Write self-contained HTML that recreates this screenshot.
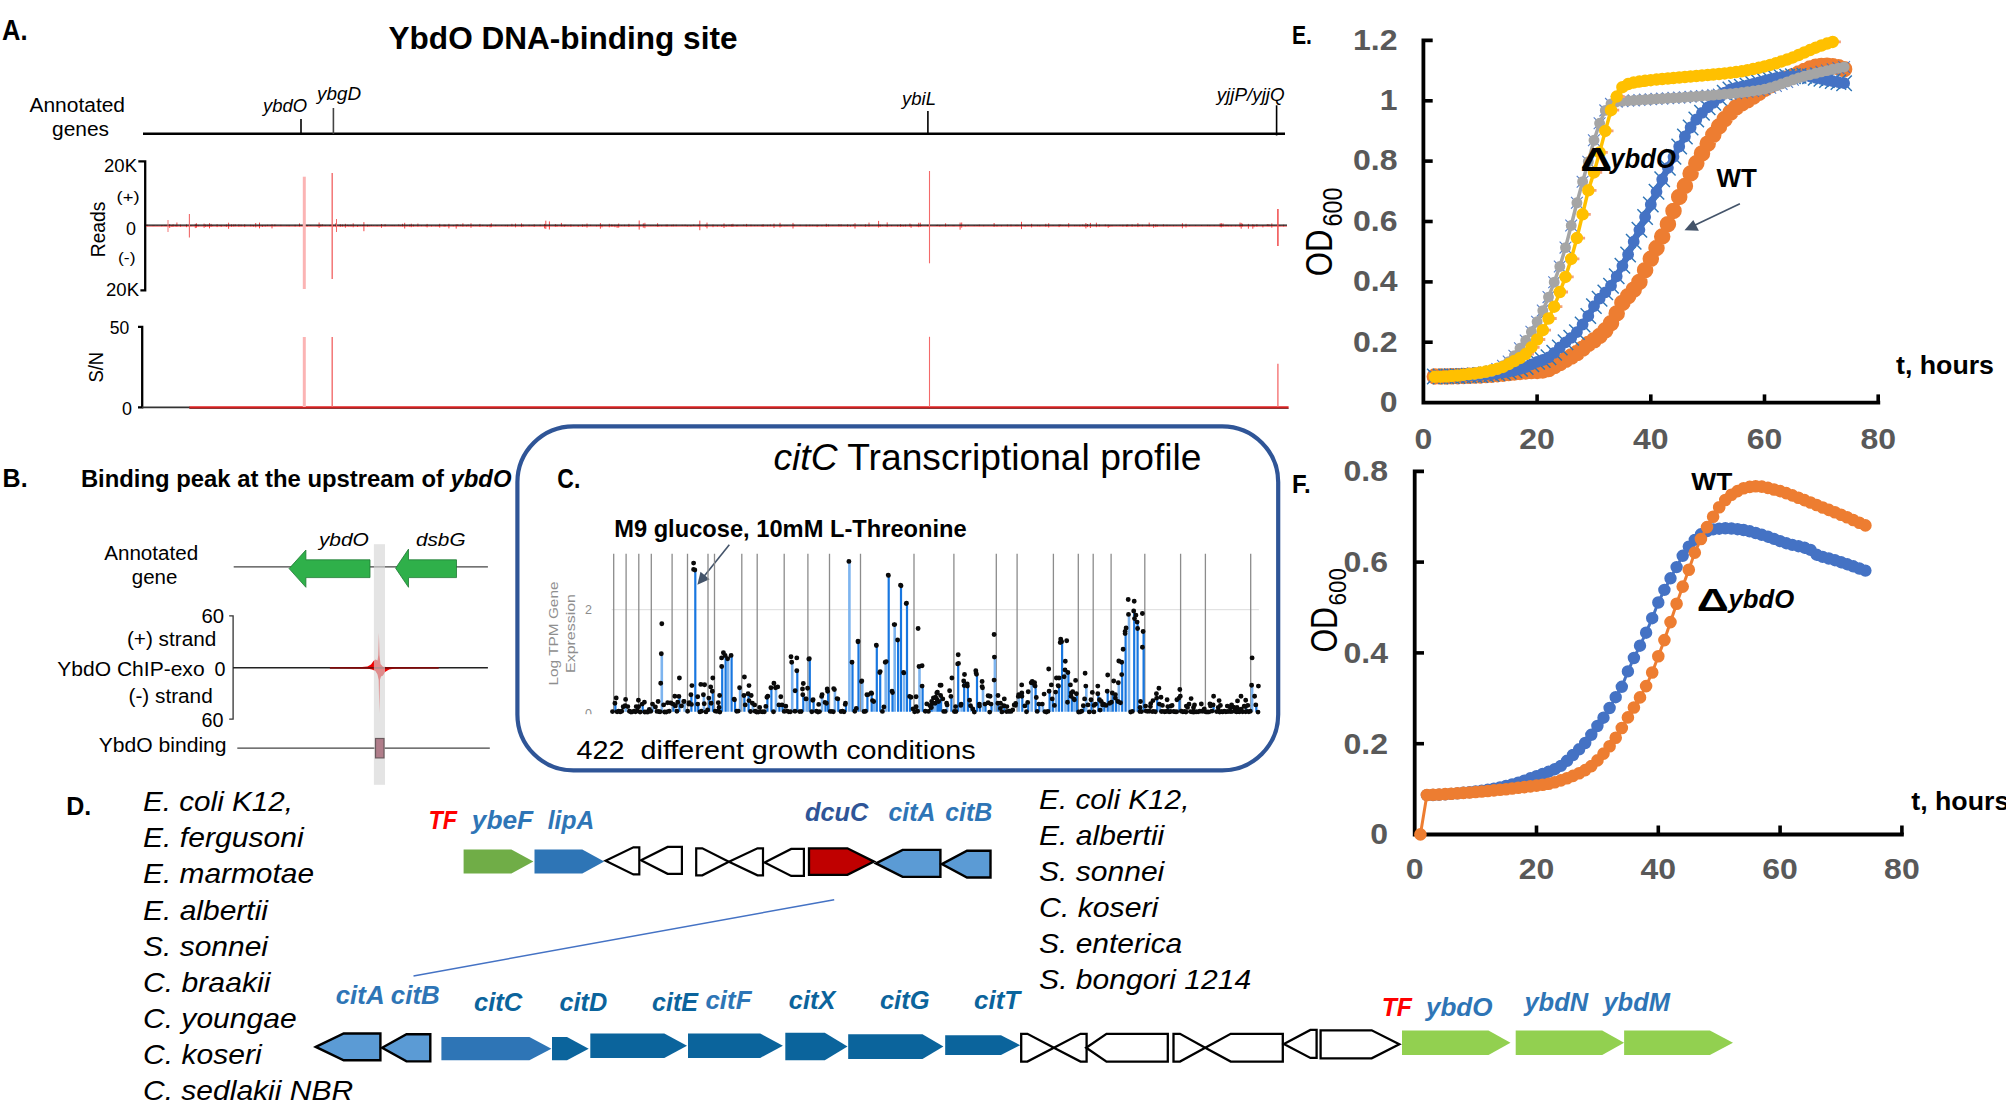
<!DOCTYPE html>
<html lang="en">
<head>
<meta charset="utf-8">
<title>YbdO DNA-binding site</title>
<style>
html,body{margin:0;padding:0;background:#fff;}
body{width:2006px;height:1112px;overflow:hidden;}
svg{display:block;font-family:"Liberation Sans",sans-serif;}
</style>
</head>
<body>
<svg width="2006" height="1112" viewBox="0 0 2006 1112">
<rect width="2006" height="1112" fill="#fff"/>
<g id="panelA">
<text x="2.0" y="40.0" font-size="29" font-weight="bold" textLength="25.5" lengthAdjust="spacingAndGlyphs">A.</text>
<text x="388.5" y="49.3" font-size="30.5" font-weight="bold" textLength="349.0" lengthAdjust="spacingAndGlyphs">YbdO DNA-binding site</text>
<text x="29.5" y="112.0" font-size="19.5" textLength="95.5" lengthAdjust="spacingAndGlyphs">Annotated</text>
<text x="52.0" y="136.0" font-size="19.5" textLength="57.0" lengthAdjust="spacingAndGlyphs">genes</text>
<line x1="143.0" y1="133.7" x2="1285.0" y2="133.7" stroke="#000" stroke-width="2.6"/>
<line x1="301.0" y1="119.0" x2="301.0" y2="134.0" stroke="#000" stroke-width="1.6"/>
<line x1="333.4" y1="108.0" x2="333.4" y2="134.0" stroke="#444" stroke-width="1.6"/>
<line x1="927.9" y1="111.0" x2="927.9" y2="134.0" stroke="#000" stroke-width="1.6"/>
<line x1="1276.6" y1="105.3" x2="1276.6" y2="135.5" stroke="#000" stroke-width="1.6"/>
<text x="263.0" y="111.7" font-size="18" font-style="italic" textLength="44.0" lengthAdjust="spacingAndGlyphs">ybdO</text>
<text x="317.0" y="99.7" font-size="18" font-style="italic" textLength="44.0" lengthAdjust="spacingAndGlyphs">ybgD</text>
<text x="902.0" y="104.7" font-size="18" font-style="italic" textLength="34.0" lengthAdjust="spacingAndGlyphs">ybiL</text>
<text x="1216.7" y="100.5" font-size="18" font-style="italic" textLength="68.0" lengthAdjust="spacingAndGlyphs">yjjP/yjjQ</text>
<text x="104.0" y="172.3" font-size="18.5" textLength="33.0" lengthAdjust="spacingAndGlyphs">20K</text>
<text x="116.6" y="202.0" font-size="15.5" textLength="23.0" lengthAdjust="spacingAndGlyphs">(+)</text>
<text x="126.0" y="235.0" font-size="18.5" textLength="10.0" lengthAdjust="spacingAndGlyphs">0</text>
<text x="118.0" y="262.5" font-size="15.5" textLength="17.5" lengthAdjust="spacingAndGlyphs">(-)</text>
<text x="106.0" y="296.0" font-size="18.5" textLength="33.0" lengthAdjust="spacingAndGlyphs">20K</text>
<text transform="translate(104.9 257.2) rotate(-90)" font-size="20.5" textLength="55.5" lengthAdjust="spacingAndGlyphs">Reads</text>
<path d="M138.3 161.3H145.2V290.4H140.4" fill="none" stroke="#000" stroke-width="2.3"/>
<path d="M147.0 224.6V226.2M153.0 225.3V226.1M154.2 225.3V225.9M157.1 225.4V225.9M161.5 225.3V226.2M162.7 225.2V226.0M164.9 224.9V226.0M166.1 225.0V226.1M169.7 224.1V227.9M171.9 225.0V226.8M173.1 224.3V226.7M175.3 225.1V226.3M176.9 222.5V226.7M180.5 224.6V226.8M186.5 224.4V227.2M190.9 225.0V226.2M195.3 223.8V228.1M196.5 223.3V227.7M198.1 224.9V226.4M204.1 223.6V227.8M205.7 224.4V227.0M207.9 224.6V226.6M209.5 223.2V228.4M211.1 223.9V226.9M212.7 225.1V226.2M217.1 224.2V227.1M220.0 225.0V226.0M221.2 224.9V226.9M224.8 225.0V225.9M226.4 224.5V226.9M228.6 222.7V228.8M231.5 224.4V226.8M233.7 224.5V226.5M235.3 224.4V226.2M238.9 224.3V226.7M241.1 224.6V226.4M244.7 224.3V227.1M250.7 224.7V226.4M252.3 225.1V225.9M253.5 225.0V226.6M255.7 223.0V227.3M257.9 225.2V226.0M259.5 222.6V228.4M262.4 225.0V227.0M265.3 225.2V226.5M267.5 224.8V226.1M270.4 225.3V225.9M272.0 224.3V228.4M274.9 224.4V226.2M280.9 224.8V226.1M286.9 225.2V226.1M289.1 225.1V226.3M295.1 224.8V226.5M299.5 223.4V226.5M301.1 225.1V226.0M307.1 225.0V226.4M310.7 225.2V226.0M316.7 225.3V225.9M317.9 225.0V226.3M319.1 222.5V227.9M320.7 224.7V226.5M322.3 224.3V226.2M325.2 225.0V226.1M329.6 225.2V226.1M330.8 224.8V226.2M333.0 225.1V226.6M335.9 223.1V227.1M340.3 224.2V227.0M342.5 224.6V226.6M345.4 223.8V227.7M347.6 224.8V226.0M348.8 225.3V226.3M351.0 224.7V226.4M353.2 223.3V227.3M357.6 225.0V227.0M360.5 225.4V225.9M362.7 225.2V226.0M363.9 222.1V231.2M367.5 224.8V226.6M369.1 225.0V226.3M371.3 224.9V226.0M373.5 225.4V225.8M377.1 225.1V226.2M381.5 224.0V227.8M385.1 224.2V226.4M391.1 225.1V225.9M392.7 225.1V225.9M394.3 225.1V226.1M398.7 224.5V226.1M400.3 225.3V226.2M402.5 223.8V226.5M404.7 222.8V228.5M406.3 225.3V226.1M407.5 225.3V225.9M409.7 224.6V226.5M411.3 223.7V227.2M413.5 224.7V226.5M417.9 223.5V226.6M421.5 225.2V226.2M425.9 225.3V226.3M427.1 223.9V227.4M431.5 225.3V226.5M435.9 225.3V226.3M438.1 225.2V226.3M439.7 223.8V227.6M444.1 224.6V226.6M445.3 224.8V226.4M448.9 223.8V228.4M453.3 225.1V226.3M456.2 224.4V228.6M457.8 224.3V226.0M460.7 224.8V226.1M462.9 223.3V226.7M466.5 225.1V226.4M468.1 224.5V226.2M471.0 223.3V227.8M473.2 225.0V226.0M475.4 225.3V225.9M477.0 225.3V225.9M479.9 223.9V226.9M482.8 224.9V226.1M487.2 225.0V227.0M490.1 224.6V227.3M491.3 223.3V227.2M495.7 224.9V226.1M501.7 225.1V225.9M505.3 225.0V226.1M507.5 224.9V226.5M511.9 223.8V226.4M515.5 223.6V227.3M521.5 223.4V227.1M523.1 224.7V226.6M529.1 224.8V226.2M532.0 225.1V225.9M534.2 224.4V226.9M540.2 224.7V226.2M544.6 223.9V228.4M545.8 220.7V228.9M549.4 221.4V229.5M555.4 224.1V226.8M557.0 224.8V226.6M561.4 222.9V226.6M563.0 225.3V226.4M564.6 224.8V226.8M565.8 224.8V225.9M568.0 225.3V226.3M570.9 224.5V226.9M573.8 225.3V226.2M578.2 225.0V226.9M582.6 224.5V227.0M584.8 224.8V226.4M587.0 223.5V227.6M590.6 224.8V226.0M596.6 225.1V226.4M598.8 225.1V225.9M600.4 223.1V228.7M602.0 224.8V227.3M604.9 225.3V226.0M609.3 223.8V227.3M611.5 224.6V226.4M612.7 224.8V226.4M614.9 224.6V227.2M617.1 224.7V227.9M618.7 223.5V227.7M621.6 225.1V226.0M624.5 224.8V226.2M628.9 223.8V227.0M631.8 225.1V225.8M633.4 225.2V226.0M637.0 225.1V225.9M639.2 220.5V229.6M640.4 225.4V226.1M643.3 223.3V227.7M644.9 222.8V228.2M650.9 225.1V226.1M653.1 225.1V225.9M656.0 225.1V226.1M657.6 223.2V226.8M658.8 225.0V226.4M661.7 225.0V226.3M666.1 224.7V226.4M667.3 224.6V226.4M671.7 224.9V226.3M673.3 224.6V226.3M676.2 224.7V226.2M682.2 224.8V225.9M685.1 224.7V225.9M687.3 225.2V226.6M690.9 225.0V226.5M693.8 224.5V226.0M698.2 224.6V226.3M699.8 220.6V230.2M705.8 224.6V226.9M707.0 222.6V228.4M713.0 224.6V227.2M717.4 225.1V226.6M721.8 225.1V226.8M724.0 223.4V228.0M726.2 225.0V226.6M729.1 224.7V226.2M731.3 224.3V226.7M732.9 223.8V226.9M736.5 225.1V226.3M737.7 224.9V226.3M743.7 224.7V225.9M746.6 223.9V226.6M751.0 224.7V226.3M754.6 225.2V226.1M757.5 225.2V226.1M761.9 224.9V226.4M763.1 224.3V226.8M767.5 224.9V226.3M770.4 224.5V226.2M774.0 223.6V227.9M780.0 222.8V227.5M781.2 225.0V226.5M784.8 225.4V226.2M787.0 225.1V226.1M793.0 222.9V228.5M794.2 224.7V226.1M800.2 224.8V226.1M806.2 224.7V226.5M809.8 224.7V226.3M812.7 224.9V226.1M814.9 225.3V226.0M817.1 224.8V227.1M818.3 225.3V226.1M821.9 225.1V226.3M826.3 223.8V226.9M828.5 224.5V226.4M832.9 225.2V225.9M838.9 224.1V226.4M841.1 224.3V226.4M844.0 225.3V225.9M847.6 224.4V226.8M850.5 225.0V226.6M853.4 224.6V226.1M855.0 223.2V228.5M861.0 224.9V226.0M865.4 224.3V226.9M869.0 222.6V226.7M872.6 225.3V225.8M878.6 220.9V227.5M880.2 224.6V226.8M882.4 225.1V226.0M886.0 225.2V226.2M887.2 222.4V227.1M891.6 225.0V226.2M897.6 224.9V226.6M900.5 224.3V226.9M901.7 225.0V226.1M903.3 225.1V226.5M905.5 224.7V226.5M909.9 223.5V226.6M911.1 224.5V227.8M917.1 224.9V226.3M918.7 222.8V227.2M920.3 222.7V226.9M921.5 225.2V225.9M927.5 224.9V226.2M930.4 225.2V225.9M936.4 225.0V226.0M937.6 224.8V226.0M939.8 225.0V226.5M942.0 225.3V225.9M945.6 223.3V226.6M948.5 225.1V225.9M952.9 225.3V226.1M954.1 225.2V226.2M960.1 222.6V229.7M961.7 222.5V227.7M965.3 225.1V226.4M968.2 224.9V226.0M974.2 225.2V226.1M977.1 225.0V226.0M979.3 224.6V226.2M983.7 225.2V226.3M988.1 225.3V225.8M994.1 223.0V226.9M997.0 225.1V226.5M1001.4 225.1V226.4M1007.4 224.6V226.4M1011.0 224.6V226.4M1015.4 225.0V225.9M1017.0 224.8V226.2M1018.6 225.3V226.0M1021.5 221.8V229.1M1025.1 225.0V226.6M1028.0 225.0V226.0M1031.6 223.8V227.4M1037.6 224.9V226.2M1039.8 225.1V226.4M1045.8 223.8V226.7M1048.7 223.2V227.5M1053.1 225.1V225.9M1059.1 224.4V227.1M1060.7 224.6V226.0M1062.9 225.1V226.0M1065.8 225.1V226.0M1068.7 223.1V227.4M1074.7 225.0V226.2M1076.9 225.1V226.1M1079.8 224.9V226.5M1082.7 224.6V226.2M1084.3 225.3V226.5M1085.9 223.0V228.4M1087.5 224.0V227.1M1090.4 222.9V228.0M1096.4 222.7V227.2M1099.3 224.5V226.5M1105.3 224.5V226.3M1108.2 224.7V227.8M1109.8 225.1V226.8M1112.0 225.1V226.3M1116.4 225.4V225.9M1120.0 224.9V225.9M1122.9 224.8V226.6M1126.5 224.8V226.6M1127.7 224.5V226.5M1132.1 224.4V226.8M1135.0 225.0V226.3M1137.9 223.1V227.1M1139.5 225.3V226.1M1142.4 224.8V226.4M1146.8 225.2V226.2M1148.0 225.0V225.9M1149.2 222.6V226.6M1153.6 224.3V227.8M1155.8 224.4V227.1M1157.4 224.8V226.6M1163.4 224.4V226.4M1167.0 224.8V226.2M1169.9 225.2V226.0M1173.5 225.3V226.2M1176.4 225.4V225.8M1182.4 223.2V228.3M1186.0 223.8V227.5M1189.6 225.0V226.1M1195.6 225.2V225.9M1201.6 225.0V226.0M1207.6 224.9V226.1M1209.8 225.1V226.2M1214.2 225.2V226.1M1220.2 223.3V227.1M1221.4 223.2V227.4M1223.0 223.4V226.7M1225.9 224.9V226.2M1227.1 224.9V226.0M1228.3 225.1V226.3M1231.2 225.0V226.4M1235.6 225.2V226.3M1240.0 222.6V227.1M1241.2 222.9V228.7M1242.4 223.7V226.6M1248.4 223.9V228.7M1252.8 224.3V228.7M1254.0 224.9V227.2M1256.9 224.1V226.8M1262.9 225.0V227.4M1267.3 224.1V226.2M1268.9 224.2V226.3M1271.8 223.4V227.7M1274.0 225.3V225.8M1280.0 225.4V226.2M1283.6 224.7V226.5" stroke="#f21c1c" stroke-width="0.9" fill="none" opacity="0.9"/>
<line x1="146.0" y1="226.1" x2="1287.0" y2="226.1" stroke="#ee2a2a" stroke-width="1.6" opacity="0.5"/>
<line x1="146.0" y1="225.1" x2="1287.0" y2="225.1" stroke="#1a1a1a" stroke-width="1.3"/>
<line x1="189.4" y1="214.0" x2="189.4" y2="237.5" stroke="#f06a6a" stroke-width="1.1"/>
<line x1="168.0" y1="220.0" x2="168.0" y2="232.0" stroke="#f06a6a" stroke-width="0.9"/>
<line x1="304.3" y1="176.7" x2="304.3" y2="289.0" stroke="#fbb4b4" stroke-width="3"/>
<line x1="332.2" y1="173.0" x2="332.2" y2="279.0" stroke="#f26d6d" stroke-width="1.4"/>
<line x1="336.5" y1="219.0" x2="336.5" y2="232.0" stroke="#f06a6a" stroke-width="1"/>
<line x1="929.5" y1="171.0" x2="929.5" y2="263.3" stroke="#f46a6a" stroke-width="1.1"/>
<line x1="1277.9" y1="209.0" x2="1277.9" y2="246.0" stroke="#f04a4a" stroke-width="1.5"/>
<text x="109.8" y="334.0" font-size="18.5" textLength="19.5" lengthAdjust="spacingAndGlyphs">50</text>
<text x="122.0" y="415.0" font-size="18.5" textLength="10.0" lengthAdjust="spacingAndGlyphs">0</text>
<text transform="translate(103.4 382.6) rotate(-90)" font-size="21" textLength="30.8" lengthAdjust="spacingAndGlyphs">S/N</text>
<path d="M138 326.8H142.2V407.4H138" fill="none" stroke="#000" stroke-width="2.3"/>
<line x1="142.0" y1="407.4" x2="190.0" y2="407.4" stroke="#333" stroke-width="1.6"/>
<line x1="189.4" y1="407.4" x2="1288.6" y2="407.4" stroke="#d22" stroke-width="2.2"/>
<line x1="189.4" y1="408.4" x2="1288.6" y2="408.4" stroke="#611" stroke-width="0.8"/>
<line x1="304.3" y1="337.0" x2="304.3" y2="407.0" stroke="#fbb4b4" stroke-width="3"/>
<line x1="332.2" y1="337.0" x2="332.2" y2="407.0" stroke="#f26d6d" stroke-width="1.4"/>
<line x1="929.5" y1="336.8" x2="929.5" y2="407.0" stroke="#f46a6a" stroke-width="1.1"/>
<line x1="1277.9" y1="363.7" x2="1277.9" y2="407.0" stroke="#f46a6a" stroke-width="1.3"/>
</g>
<g id="panelB">
<text x="2.6" y="486.9" font-size="25" font-weight="bold" textLength="25.0" lengthAdjust="spacingAndGlyphs">B.</text>
<text x="80.9" y="486.9" font-size="23.5" font-weight="bold" textLength="430.6" lengthAdjust="spacingAndGlyphs">Binding peak at the upstream of <tspan font-style="italic">ybdO</tspan></text>
<text x="104.2" y="559.8" font-size="20" textLength="94.0" lengthAdjust="spacingAndGlyphs">Annotated</text>
<text x="131.8" y="584.0" font-size="20" textLength="45.6" lengthAdjust="spacingAndGlyphs">gene</text>
<line x1="233.7" y1="566.9" x2="487.9" y2="566.9" stroke="#444" stroke-width="1.3"/>
<polygon points="289.1,568.6 305.9,550.0 305.9,559.8 370.0,559.8 370.0,577.6 305.9,577.6 305.9,587.3" fill="#2fb04a" stroke="#1f7a33" stroke-width="0.8" stroke-linejoin="miter"/>
<polygon points="395.6,568.2 408.5,549.1 408.5,559.8 456.5,559.8 456.5,577.6 408.5,577.6 408.5,587.3" fill="#2fb04a" stroke="#1f7a33" stroke-width="0.8" stroke-linejoin="miter"/>
<text x="318.9" y="546.2" font-size="19" font-style="italic" textLength="50.0" lengthAdjust="spacingAndGlyphs">ybdO</text>
<text x="416.0" y="546.2" font-size="19" font-style="italic" textLength="49.5" lengthAdjust="spacingAndGlyphs">dsbG</text>
<text x="201.4" y="622.9" font-size="19.5" textLength="22.6" lengthAdjust="spacingAndGlyphs">60</text>
<text x="126.9" y="645.6" font-size="19.5" textLength="89.4" lengthAdjust="spacingAndGlyphs">(+) strand</text>
<text x="57.3" y="676.3" font-size="19.5" textLength="147.3" lengthAdjust="spacingAndGlyphs">YbdO ChIP-exo</text>
<text x="214.6" y="676.3" font-size="19.5" textLength="11.0" lengthAdjust="spacingAndGlyphs">0</text>
<text x="128.5" y="702.9" font-size="19.5" textLength="84.2" lengthAdjust="spacingAndGlyphs">(-) strand</text>
<text x="201.4" y="726.5" font-size="19.5" textLength="22.0" lengthAdjust="spacingAndGlyphs">60</text>
<path d="M229.2 615.8H233.1V719.1H229.2" fill="none" stroke="#333" stroke-width="1.3"/>
<line x1="233.0" y1="667.8" x2="487.9" y2="667.8" stroke="#222" stroke-width="1.6"/>
<path d="M329.9 667.8L362 667L367.5 666.5L371 664.5L373.5 661L375.5 659.6L377.5 660.5L378.3 655L378.9 632.4L379.5 655L380.5 664L383 666.8L390 667.2L438.7 667.8L395 668.6L389.2 669.5L385 672L383 675.5L381 676.4L379.9 680L379.3 713.5L378.7 680L377.5 674.5L375.4 671L372 669.5L367 668.6Z" fill="#f00000"/>
<line x1="329.9" y1="667.8" x2="438.7" y2="667.8" stroke="#7a0a0a" stroke-width="1.7"/>
<text x="98.7" y="752.4" font-size="19.5" textLength="127.9" lengthAdjust="spacingAndGlyphs">YbdO binding</text>
<line x1="237.3" y1="748.2" x2="489.8" y2="748.2" stroke="#444" stroke-width="1.3"/>
<rect x="373.9" y="544.2" width="11.1" height="240.6" fill="#d6d6d6" opacity="0.655"/>
<rect x="375.5" y="738.5" width="8.5" height="19.4" fill="#b07d8a" stroke="#6b5a5e" stroke-width="1.2"/>
</g>
<g id="panelC">
<rect x="517.4" y="426.3" width="760.8" height="344.1" rx="56" ry="56" fill="#fff" stroke="#2f5597" stroke-width="4.2"/>
<text x="773.5" y="469.8" font-size="37" textLength="428.0" lengthAdjust="spacingAndGlyphs"><tspan font-style="italic">citC</tspan> Transcriptional profile</text>
<text x="557.3" y="488.2" font-size="27.5" font-weight="bold" textLength="23.0" lengthAdjust="spacingAndGlyphs">C.</text>
<text x="614.2" y="536.8" font-size="24" font-weight="bold" textLength="352.5" lengthAdjust="spacingAndGlyphs">M9 glucose, 10mM L-Threonine</text>
<text x="576.6" y="759.0" font-size="25.5" textLength="399.0" lengthAdjust="spacingAndGlyphs">422  different growth conditions</text>
<line x1="729.3" y1="544.8" x2="701.5" y2="579.6" stroke="#44546a" stroke-width="1.6"/>
<polygon points="697.4,584.7 700.5,571.8 709.6,579.2" fill="#44546a"/>
<text transform="translate(557.5 633.5) rotate(-90)" font-size="13.5" fill="#8f8f8f" text-anchor="middle" textLength="104.0" lengthAdjust="spacingAndGlyphs">Log TPM Gene</text>
<text transform="translate(575.3 633.5) rotate(-90)" font-size="13.5" fill="#8f8f8f" text-anchor="middle" textLength="79.0" lengthAdjust="spacingAndGlyphs">Expression</text>
<text x="588.5" y="613.8" font-size="12.5" fill="#8c8c8c" text-anchor="middle">2</text>
<text x="588.5" y="717.5" font-size="12.5" fill="#8c8c8c" text-anchor="middle">0</text>
<rect x="580.0" y="714.2" width="17.0" height="6.0" fill="#fff"/>
<line x1="611.7" y1="609.7" x2="1258.9" y2="609.7" stroke="#dcdcdc" stroke-width="1"/>
<path d="M613.7 553.7V711.7M626.1 553.7V711.7M638.8 553.7V711.7M651.3 553.7V711.7M672.1 553.7V711.7M687.5 553.7V711.7M708.0 553.7V711.7M714.5 553.7V711.7M741.8 553.7V711.7M757.2 553.7V711.7M784.2 553.7V711.7M807.9 553.7V711.7M829.5 553.7V711.7M860.5 553.7V711.7M914.0 553.7V711.7M953.9 553.7V711.7M996.3 553.7V711.7M1017.1 553.7V711.7M1053.4 553.7V711.7M1078.3 553.7V711.7M1093.2 553.7V711.7M1111.1 553.7V711.7M1144.8 553.7V711.7M1180.6 553.7V711.7M1205.4 553.7V711.7M1250.7 553.7V711.7" stroke="#8c8c8c" stroke-width="1.3" fill="none"/>
<path d="M661.8 654.5V711.7M625.6 706.6V711.7M653.0 704.9V711.7M684.6 702.3V711.7M703.9 695.5V711.7M719.6 708.3V711.7M728.1 659.6V711.7M740.1 688.6V711.7M752.9 704.0V711.7M776.0 688.6V711.7M792.2 663.0V711.7M806.7 699.7V711.7M822.1 697.2V711.7M834.9 690.4V711.7M849.4 562.2V711.7M862.3 681.8V711.7M874.2 702.3V711.7M885.7 663.0V711.7M894.7 625.4V711.7M904.1 673.3V711.7M919.5 667.3V711.7M935.7 704.0V711.7M933.4 704.0V711.7M947.1 704.0V711.7M961.6 704.9V711.7M971.0 706.6V711.7M983.0 688.6V711.7M994.9 657.9V711.7M1018.8 697.2V711.7M1031.7 683.5V711.7M1042.8 704.9V711.7M1056.1 692.9V711.7M1065.5 670.7V711.7M1074.4 699.7V711.7M1086.3 686.9V711.7M1101.7 702.3V711.7M1110.2 704.0V711.7M1118.8 683.5V711.7M1129.0 615.2V711.7M1140.5 708.3V711.7M1159.8 704.9V711.7M1194.0 708.3V711.7M1230.7 708.3V711.7M1252.1 686.1V711.7" stroke="#7db4ef" stroke-width="2.6" fill="none"/>
<path d="M695.3 570.8V711.7M615.4 704.0V711.7M636.7 707.4V711.7M642.7 704.9V711.7M673.5 704.9V711.7M679.4 697.2V711.7M691.4 695.5V711.7M698.2 704.9V711.7M709.3 698.9V711.7M712.8 692.1V711.7M722.2 667.3V711.7M725.6 656.2V711.7M731.6 656.2V711.7M735.0 700.6V711.7M744.4 696.3V711.7M748.6 694.6V711.7M767.4 698.0V711.7M771.4 688.6V711.7M779.4 705.7V711.7M782.5 705.7V711.7M797.3 671.6V711.7M803.3 695.5V711.7M809.8 659.6V711.7M813.6 700.6V711.7M825.5 703.2V711.7M828.1 692.1V711.7M838.3 699.7V711.7M846.0 704.0V711.7M852.5 663.0V711.7M858.5 642.5V711.7M867.4 695.5V711.7M871.7 693.8V711.7M876.8 645.9V711.7M880.2 673.3V711.7M888.7 575.9V711.7M892.5 692.1V711.7M898.1 640.8V711.7M901.0 586.1V711.7M907.0 604.1V711.7M910.1 697.2V711.7M922.6 686.9V711.7M931.5 708.3V711.7M939.1 702.3V711.7M937.7 700.6V711.7M941.1 696.3V711.7M951.4 697.2V711.7M958.2 664.7V711.7M964.2 681.8V711.7M967.9 686.9V711.7M977.0 675.0V711.7M979.9 704.9V711.7M985.5 704.9V711.7M991.5 704.9V711.7M998.3 704.0V711.7M1004.3 706.6V711.7M1022.3 693.8V711.7M1028.2 703.2V711.7M1035.6 686.9V711.7M1039.3 704.9V711.7M1049.6 692.1V711.7M1052.7 699.7V711.7M1059.0 686.9V711.7M1062.1 642.5V711.7M1068.4 673.3V711.7M1071.8 693.8V711.7M1076.9 694.6V711.7M1083.8 706.6V711.7M1091.5 700.6V711.7M1098.3 694.6V711.7M1104.3 704.9V711.7M1107.7 692.1V711.7M1112.8 693.8V711.7M1115.9 698.9V711.7M1122.2 663.0V711.7M1125.6 632.3V711.7M1134.2 611.8V711.7M1137.6 622.9V711.7M1143.6 632.3V711.7M1157.2 698.9V711.7M1168.3 707.4V711.7M1179.4 698.9V711.7M1213.6 705.7V711.7M1218.7 708.3V711.7M1237.5 708.3V711.7M1246.1 707.4V711.7M1256.3 705.7V711.7" stroke="#1877e0" stroke-width="2.2" fill="none"/>
<path d="M661.3 653.7h0.01M694.8 570.0h0.01M614.9 703.2h0.01M625.1 705.8h0.01M636.2 706.6h0.01M642.2 704.1h0.01M652.5 704.1h0.01M673.0 704.1h0.01M678.9 696.4h0.01M684.1 701.5h0.01M690.9 694.7h0.01M697.7 704.1h0.01M703.4 694.7h0.01M708.8 698.1h0.01M712.3 691.3h0.01M719.1 707.5h0.01M721.7 666.5h0.01M725.1 655.4h0.01M727.6 658.8h0.01M731.1 655.4h0.01M734.5 699.8h0.01M739.6 687.8h0.01M743.9 695.5h0.01M748.1 693.8h0.01M752.4 703.2h0.01M766.9 697.2h0.01M770.9 687.8h0.01M775.5 687.8h0.01M778.9 704.9h0.01M782.0 704.9h0.01M791.7 662.2h0.01M796.8 670.8h0.01M802.8 694.7h0.01M806.2 698.9h0.01M809.3 658.8h0.01M813.1 699.8h0.01M821.6 696.4h0.01M825.0 702.4h0.01M827.6 691.3h0.01M834.4 689.6h0.01M837.8 698.9h0.01M845.5 703.2h0.01M848.9 561.4h0.01M852.0 662.2h0.01M858.0 641.7h0.01M861.8 681.0h0.01M866.9 694.7h0.01M871.2 693.0h0.01M873.7 701.5h0.01M876.3 645.1h0.01M879.7 672.5h0.01M885.2 662.2h0.01M888.2 575.1h0.01M892.0 691.3h0.01M894.2 624.6h0.01M897.6 640.0h0.01M900.5 585.3h0.01M903.6 672.5h0.01M906.5 603.3h0.01M909.6 696.4h0.01M919.0 666.5h0.01M922.1 686.1h0.01M931.0 707.5h0.01M935.2 703.2h0.01M938.6 701.5h0.01M932.9 703.2h0.01M937.2 699.8h0.01M940.6 695.5h0.01M946.6 703.2h0.01M950.9 696.4h0.01M957.7 663.9h0.01M961.1 704.1h0.01M963.7 681.0h0.01M967.4 686.1h0.01M970.5 705.8h0.01M976.5 674.2h0.01M979.4 704.1h0.01M982.5 687.8h0.01M985.0 704.1h0.01M991.0 704.1h0.01M994.4 657.1h0.01M997.8 703.2h0.01M1003.8 705.8h0.01M1018.3 696.4h0.01M1021.8 693.0h0.01M1027.7 702.4h0.01M1031.2 682.7h0.01M1035.1 686.1h0.01M1038.8 704.1h0.01M1042.3 704.1h0.01M1049.1 691.3h0.01M1052.2 698.9h0.01M1055.6 692.1h0.01M1058.5 686.1h0.01M1061.6 641.7h0.01M1065.0 669.9h0.01M1067.9 672.5h0.01M1071.3 693.0h0.01M1073.9 698.9h0.01M1076.4 693.8h0.01M1083.3 705.8h0.01M1085.8 686.1h0.01M1091.0 699.8h0.01M1097.8 693.8h0.01M1101.2 701.5h0.01M1103.8 704.1h0.01M1107.2 691.3h0.01M1109.7 703.2h0.01M1112.3 693.0h0.01M1115.4 698.1h0.01M1118.3 682.7h0.01M1121.7 662.2h0.01M1125.1 631.5h0.01M1128.5 614.4h0.01M1133.7 611.0h0.01M1137.1 622.1h0.01M1140.0 707.5h0.01M1143.1 631.5h0.01M1156.7 698.1h0.01M1159.3 704.1h0.01M1167.8 706.6h0.01M1178.9 698.1h0.01M1193.5 707.5h0.01M1213.1 704.9h0.01M1218.2 707.5h0.01M1230.2 707.5h0.01M1237.0 707.5h0.01M1245.6 706.6h0.01M1251.6 685.3h0.01M1255.8 704.9h0.01M661.8 623.7h0.01M660.7 683.2h0.01M693.6 563.1h0.01M693.6 569.4h0.01M679.4 678.0h0.01M691.9 685.6h0.01M700.8 684.4h0.01M704.6 684.7h0.01M710.7 686.9h0.01M712.8 678.0h0.01M697.7 696.8h0.01M719.6 695.5h0.01M723.4 652.8h0.01M721.6 657.9h0.01M744.4 677.0h0.01M749.0 685.6h0.01M751.2 695.5h0.01M773.9 683.2h0.01M777.7 686.9h0.01M791.0 656.7h0.01M796.8 657.9h0.01M808.8 659.1h0.01M803.3 683.5h0.01M802.5 689.0h0.01M807.6 688.3h0.01M795.1 690.7h0.01M812.7 700.3h0.01M827.2 689.0h0.01M833.7 688.6h0.01M822.1 694.6h0.01M837.1 698.6h0.01M845.2 704.4h0.01M868.2 694.6h0.01M871.7 693.4h0.01M872.5 700.6h0.01M858.0 641.1h0.01M861.4 681.5h0.01M876.4 645.6h0.01M880.2 671.6h0.01M886.2 661.6h0.01M888.4 575.4h0.01M894.7 624.6h0.01M897.6 639.9h0.01M901.0 585.8h0.01M906.2 603.6h0.01M903.8 672.9h0.01M892.5 692.6h0.01M918.1 628.5h0.01M922.1 665.7h0.01M911.0 697.2h0.01M916.1 696.8h0.01M935.7 697.2h0.01M937.4 692.1h0.01M940.0 685.2h0.01M616.2 698.0h0.01M625.6 699.4h0.01M638.4 700.3h0.01M644.4 702.3h0.01M658.1 701.5h0.01M663.6 704.9h0.01M674.8 696.3h0.01M677.7 702.3h0.01M683.7 701.5h0.01M688.8 704.0h0.01M691.4 704.4h0.01M704.2 703.7h0.01M711.1 703.2h0.01M734.1 699.2h0.01M745.2 704.9h0.01M749.0 700.6h0.01M754.6 704.9h0.01M767.8 696.3h0.01M780.8 696.8h0.01M805.9 698.9h0.01M818.7 704.4h0.01M826.4 703.2h0.01M936.8 692.9h0.01M941.1 685.2h0.01M949.6 690.7h0.01M951.9 678.0h0.01M958.2 654.8h0.01M958.5 663.4h0.01M964.5 674.5h0.01M964.2 685.6h0.01M967.2 683.9h0.01M969.6 700.3h0.01M975.8 670.7h0.01M976.1 672.9h0.01M982.1 681.5h0.01M982.1 686.6h0.01M988.1 695.8h0.01M990.1 696.3h0.01M994.1 634.5h0.01M994.1 680.1h0.01M998.0 695.5h0.01M1004.3 698.9h0.01M1000.4 703.2h0.01M1018.8 694.6h0.01M1021.9 696.3h0.01M1021.7 684.9h0.01M1028.2 691.7h0.01M1032.2 681.5h0.01M1034.6 682.7h0.01M1034.6 685.2h0.01M1036.3 697.5h0.01M1044.1 694.1h0.01M1048.7 669.0h0.01M1051.3 684.9h0.01M1056.4 678.0h0.01M1059.0 678.0h0.01M1058.1 685.6h0.01M1060.7 639.1h0.01M1060.2 642.5h0.01M1066.7 640.8h0.01M1065.3 661.3h0.01M1064.1 676.7h0.01M1070.4 684.9h0.01M1075.6 680.4h0.01M1072.7 691.7h0.01M1071.0 696.3h0.01M1074.4 699.7h0.01M1067.5 702.3h0.01M1085.1 673.3h0.01M1084.6 698.9h0.01M1092.3 692.4h0.01M1097.8 686.1h0.01M1099.5 699.7h0.01M1107.7 675.0h0.01M1113.7 681.0h0.01M1115.4 694.6h0.01M1118.8 661.0h0.01M1121.7 674.6h0.01M1123.1 649.3h0.01M1125.1 633.6h0.01M1126.1 628.0h0.01M1128.2 599.5h0.01M1134.2 601.2h0.01M1142.4 613.5h0.01M1135.9 615.2h0.01M1134.5 618.6h0.01M1137.6 628.5h0.01M1142.4 647.3h0.01M1140.5 701.5h0.01M1153.0 700.6h0.01M1156.4 693.8h0.01M1158.9 688.3h0.01M1161.0 697.2h0.01M1167.1 699.7h0.01M1176.9 699.7h0.01M1179.8 689.5h0.01M1180.3 696.3h0.01M1191.1 698.6h0.01M1194.5 704.9h0.01M1201.3 704.0h0.01M1209.9 704.0h0.01M1213.6 696.3h0.01M1219.1 700.6h0.01M1231.6 704.9h0.01M1237.5 700.9h0.01M1241.0 696.3h0.01M1245.7 700.3h0.01M1252.1 657.9h0.01M1254.6 696.3h0.01M1258.4 686.1h0.01M933.4 698.0h0.01M931.7 701.5h0.01M942.8 698.9h0.01M947.1 704.9h0.01M955.6 706.6h0.01M960.8 705.4h0.01M979.5 706.1h0.01M1006.9 706.6h0.01M1015.4 705.4h0.01M1054.4 705.4h0.01M1067.5 702.3h0.01M1088.0 704.9h0.01M1094.0 705.4h0.01M1102.6 704.9h0.01M1106.0 705.4h0.01M1111.4 702.3h0.01M1117.9 701.5h0.01M1120.5 702.7h0.01M1145.6 706.1h0.01M1150.4 706.6h0.01M1162.4 705.4h0.01M1170.9 706.1h0.01M1186.3 706.1h0.01M1220.4 705.4h0.01M1227.3 706.1h0.01M1247.8 705.4h0.01M612.5 711.6h0.01M617.1 711.7h0.01M618.6 711.2h0.01M620.2 711.9h0.01M621.7 711.3h0.01M623.2 706.7h0.01M627.8 706.6h0.01M629.4 711.3h0.01M630.9 712.0h0.01M632.4 711.8h0.01M634.0 711.2h0.01M635.5 711.7h0.01M637.0 711.1h0.01M638.6 706.7h0.01M640.1 712.0h0.01M644.7 712.0h0.01M646.2 711.9h0.01M647.8 712.0h0.01M649.3 709.5h0.01M650.8 711.3h0.01M655.4 706.9h0.01M657.0 711.4h0.01M658.5 711.5h0.01M660.0 711.7h0.01M664.6 712.0h0.01M666.2 712.0h0.01M667.7 702.8h0.01M669.2 711.3h0.01M670.8 703.0h0.01M675.4 705.9h0.01M676.9 711.3h0.01M681.5 705.9h0.01M687.6 711.2h0.01M689.2 702.8h0.01M699.9 711.9h0.01M701.4 711.3h0.01M706.0 711.9h0.01M707.6 709.9h0.01M715.2 711.1h0.01M716.8 711.4h0.01M718.3 702.8h0.01M719.8 712.1h0.01M736.7 711.2h0.01M738.2 711.1h0.01M750.5 711.5h0.01M755.1 711.3h0.01M756.6 712.0h0.01M758.2 712.1h0.01M759.7 707.4h0.01M761.2 711.6h0.01M762.8 711.7h0.01M764.3 711.7h0.01M765.8 706.4h0.01M773.5 711.8h0.01M784.2 711.4h0.01M785.8 706.3h0.01M787.3 711.1h0.01M788.8 711.7h0.01M790.4 711.7h0.01M795.0 711.2h0.01M799.6 711.6h0.01M801.1 711.5h0.01M811.8 711.8h0.01M816.4 711.2h0.01M818.0 712.1h0.01M819.5 711.6h0.01M830.2 711.4h0.01M831.8 711.4h0.01M833.3 711.7h0.01M841.0 711.5h0.01M842.5 711.1h0.01M844.0 711.8h0.01M854.8 711.3h0.01M856.3 708.4h0.01M864.0 711.5h0.01M865.5 711.2h0.01M882.4 711.4h0.01M883.9 706.9h0.01M913.0 708.9h0.01M914.6 711.8h0.01M916.1 706.8h0.01M917.6 711.2h0.01M925.3 711.3h0.01M926.8 703.9h0.01M928.4 711.4h0.01M929.9 705.4h0.01M931.4 707.6h0.01M943.7 711.4h0.01M945.2 711.4h0.01M954.4 711.5h0.01M955.9 711.5h0.01M972.8 709.0h0.01M974.3 712.0h0.01M988.1 702.8h0.01M989.7 712.1h0.01M1000.4 708.5h0.01M1001.9 711.9h0.01M1006.5 711.6h0.01M1008.1 711.4h0.01M1009.6 711.2h0.01M1011.1 711.4h0.01M1012.7 709.9h0.01M1014.2 705.0h0.01M1015.7 703.5h0.01M1024.9 705.9h0.01M1026.5 711.8h0.01M1037.2 711.4h0.01M1044.9 711.6h0.01M1046.4 712.0h0.01M1047.9 711.4h0.01M1078.6 712.0h0.01M1080.1 711.9h0.01M1081.7 711.3h0.01M1089.3 711.9h0.01M1093.9 711.9h0.01M1095.5 704.2h0.01M1100.1 710.1h0.01M1130.7 712.0h0.01M1132.3 711.4h0.01M1139.9 711.6h0.01M1141.5 711.6h0.01M1146.1 711.1h0.01M1147.6 711.2h0.01M1149.1 711.2h0.01M1150.7 703.8h0.01M1152.2 711.6h0.01M1153.7 711.4h0.01M1155.3 711.7h0.01M1161.4 711.5h0.01M1162.9 711.4h0.01M1164.5 711.7h0.01M1166.0 711.5h0.01M1167.5 711.3h0.01M1169.1 711.7h0.01M1170.6 711.5h0.01M1172.1 705.5h0.01M1173.7 711.5h0.01M1175.2 711.8h0.01M1176.7 711.8h0.01M1181.3 711.3h0.01M1182.9 711.8h0.01M1184.4 711.5h0.01M1185.9 712.0h0.01M1187.5 707.4h0.01M1189.0 704.3h0.01M1190.5 711.6h0.01M1192.1 711.9h0.01M1193.6 712.0h0.01M1195.1 711.8h0.01M1196.7 711.7h0.01M1198.2 711.7h0.01M1199.7 711.2h0.01M1201.3 711.1h0.01M1202.8 711.2h0.01M1204.3 708.9h0.01M1205.9 711.9h0.01M1207.4 711.9h0.01M1208.9 711.9h0.01M1210.5 705.9h0.01M1212.0 711.1h0.01M1216.6 711.6h0.01M1218.1 711.2h0.01M1219.7 712.0h0.01M1221.2 711.4h0.01M1222.7 711.9h0.01M1224.3 711.3h0.01M1225.8 711.7h0.01M1227.3 711.5h0.01M1228.9 711.5h0.01M1230.4 711.5h0.01M1231.9 711.6h0.01M1233.5 707.1h0.01M1235.0 711.3h0.01M1236.5 711.9h0.01M1238.1 711.6h0.01M1239.6 711.7h0.01M1241.1 709.1h0.01M1242.7 711.8h0.01M1244.2 706.3h0.01M1245.7 711.8h0.01M1247.3 711.4h0.01M1248.8 711.7h0.01M1250.3 711.3h0.01M1258.0 712.1h0.01" stroke="#0a0a0a" stroke-width="4.9" stroke-linecap="round" fill="none"/>
</g>
<g id="panelD">
<text x="66.3" y="814.7" font-size="26" font-weight="bold" textLength="25.0" lengthAdjust="spacingAndGlyphs">D.</text>
<text x="143.0" y="811.2" font-size="28.3" font-style="italic" textLength="150.0" lengthAdjust="spacingAndGlyphs">E. coli K12,</text>
<text x="143.0" y="847.3" font-size="28.3" font-style="italic" textLength="160.6" lengthAdjust="spacingAndGlyphs">E. fergusoni</text>
<text x="143.0" y="883.4" font-size="28.3" font-style="italic" textLength="171.0" lengthAdjust="spacingAndGlyphs">E. marmotae</text>
<text x="143.0" y="919.5" font-size="28.3" font-style="italic" textLength="125.0" lengthAdjust="spacingAndGlyphs">E. albertii</text>
<text x="143.0" y="955.6" font-size="28.3" font-style="italic" textLength="125.0" lengthAdjust="spacingAndGlyphs">S. sonnei</text>
<text x="143.0" y="991.7" font-size="28.3" font-style="italic" textLength="127.4" lengthAdjust="spacingAndGlyphs">C. braakii</text>
<text x="143.0" y="1027.8" font-size="28.3" font-style="italic" textLength="153.6" lengthAdjust="spacingAndGlyphs">C. youngae</text>
<text x="143.0" y="1063.9" font-size="28.3" font-style="italic" textLength="118.7" lengthAdjust="spacingAndGlyphs">C. koseri</text>
<text x="143.0" y="1100.0" font-size="28.3" font-style="italic" textLength="210.1" lengthAdjust="spacingAndGlyphs">C. sedlakii NBR</text>
<text x="1039.1" y="808.7" font-size="28.3" font-style="italic" textLength="150.3" lengthAdjust="spacingAndGlyphs">E. coli K12,</text>
<text x="1039.1" y="844.8" font-size="28.3" font-style="italic" textLength="125.2" lengthAdjust="spacingAndGlyphs">E. albertii</text>
<text x="1039.1" y="880.9" font-size="28.3" font-style="italic" textLength="125.2" lengthAdjust="spacingAndGlyphs">S. sonnei</text>
<text x="1039.1" y="917.0" font-size="28.3" font-style="italic" textLength="119.2" lengthAdjust="spacingAndGlyphs">C. koseri</text>
<text x="1039.1" y="953.1" font-size="28.3" font-style="italic" textLength="143.2" lengthAdjust="spacingAndGlyphs">S. enterica</text>
<text x="1039.1" y="989.2" font-size="28.3" font-style="italic" textLength="212.1" lengthAdjust="spacingAndGlyphs">S. bongori 1214</text>
<text x="428.5" y="829.3" font-size="25" font-weight="bold" font-style="italic" fill="#ff0000" textLength="28.6" lengthAdjust="spacingAndGlyphs">TF</text>
<text x="471.8" y="829.3" font-size="25" font-weight="bold" font-style="italic" fill="#2e75b6" textLength="61.4" lengthAdjust="spacingAndGlyphs">ybeF</text>
<text x="547.8" y="829.3" font-size="25" font-weight="bold" font-style="italic" fill="#2e75b6" textLength="46.4" lengthAdjust="spacingAndGlyphs">lipA</text>
<text x="804.9" y="820.6" font-size="25" font-weight="bold" font-style="italic" fill="#2f5597" textLength="63.5" lengthAdjust="spacingAndGlyphs">dcuC</text>
<text x="888.6" y="820.6" font-size="25" font-weight="bold" font-style="italic" fill="#2e75b6" textLength="46.8" lengthAdjust="spacingAndGlyphs">citA</text>
<text x="945.2" y="820.6" font-size="25" font-weight="bold" font-style="italic" fill="#2e75b6" textLength="47.1" lengthAdjust="spacingAndGlyphs">citB</text>
<polygon points="463.6,849.6 511.4,849.6 533.4,861.6 511.4,873.6 463.6,873.6" fill="#70ad47"/>
<polygon points="534.5,849.6 582.3,849.6 604.2,861.6 582.3,873.6 534.5,873.6" fill="#2e75b6"/>
<polygon points="605.6,860.8 633.4,847.3 639.3,847.3 639.3,874.4 633.4,874.4" fill="#fff" stroke="#000" stroke-width="2.2" stroke-linejoin="miter"/>
<polygon points="641.0,860.3 667.6,846.9 681.9,846.9 681.9,873.8 667.6,873.8" fill="#fff" stroke="#000" stroke-width="2.2" stroke-linejoin="miter"/>
<polygon points="696.2,848.3 702.3,848.3 728.9,861.8 702.3,875.3 696.2,875.3" fill="none" stroke="#000" stroke-width="2.2" stroke-linejoin="miter"/>
<polygon points="728.9,861.8 757.5,848.3 763.0,848.3 763.0,875.3 757.5,875.3" fill="none" stroke="#000" stroke-width="2.2" stroke-linejoin="miter"/>
<polygon points="764.6,862.4 791.2,848.9 803.9,848.9 803.9,875.9 791.2,875.9" fill="#fff" stroke="#000" stroke-width="2.2" stroke-linejoin="miter"/>
<polygon points="809.0,848.3 847.4,848.3 874.0,861.6 847.4,874.9 809.0,874.9" fill="#c00000" stroke="#000" stroke-width="2.3" stroke-linejoin="miter"/>
<polygon points="876.0,863.4 902.6,849.9 940.4,849.9 940.4,876.9 902.6,876.9" fill="#5b9bd5" stroke="#000" stroke-width="2.4" stroke-linejoin="miter"/>
<polygon points="941.8,864.1 967.0,850.7 990.5,850.7 990.5,877.5 967.0,877.5" fill="#5b9bd5" stroke="#000" stroke-width="2.4" stroke-linejoin="miter"/>
<line x1="834.2" y1="899.8" x2="413.5" y2="975.9" stroke="#4472c4" stroke-width="1.5"/>
<text x="335.7" y="1003.8" font-size="25" font-weight="bold" font-style="italic" fill="#2e75b6" textLength="104.0" lengthAdjust="spacingAndGlyphs">citA citB</text>
<text x="473.9" y="1010.8" font-size="25" font-weight="bold" font-style="italic" fill="#0b649c" textLength="48.5" lengthAdjust="spacingAndGlyphs">citC</text>
<text x="559.4" y="1010.8" font-size="25" font-weight="bold" font-style="italic" fill="#0b649c" textLength="47.8" lengthAdjust="spacingAndGlyphs">citD</text>
<text x="652.0" y="1010.8" font-size="25" font-weight="bold" font-style="italic" fill="#0b649c" textLength="46.1" lengthAdjust="spacingAndGlyphs">citE</text>
<text x="705.4" y="1009.0" font-size="25" font-weight="bold" font-style="italic" fill="#2e75b6" textLength="46.1" lengthAdjust="spacingAndGlyphs">citF</text>
<text x="788.8" y="1009.0" font-size="25" font-weight="bold" font-style="italic" fill="#0b649c" textLength="46.5" lengthAdjust="spacingAndGlyphs">citX</text>
<text x="879.9" y="1009.0" font-size="25" font-weight="bold" font-style="italic" fill="#0b649c" textLength="49.6" lengthAdjust="spacingAndGlyphs">citG</text>
<text x="974.1" y="1009.0" font-size="25" font-weight="bold" font-style="italic" fill="#0b649c" textLength="46.1" lengthAdjust="spacingAndGlyphs">citT</text>
<text x="1381.7" y="1016.1" font-size="25" font-weight="bold" font-style="italic" fill="#ff0000" textLength="30.3" lengthAdjust="spacingAndGlyphs">TF</text>
<text x="1425.9" y="1016.1" font-size="25" font-weight="bold" font-style="italic" fill="#2e75b6" textLength="66.6" lengthAdjust="spacingAndGlyphs">ybdO</text>
<text x="1524.4" y="1011.3" font-size="25" font-weight="bold" font-style="italic" fill="#2e75b6" textLength="63.8" lengthAdjust="spacingAndGlyphs">ybdN</text>
<text x="1603.4" y="1011.3" font-size="25" font-weight="bold" font-style="italic" fill="#2e75b6" textLength="66.6" lengthAdjust="spacingAndGlyphs">ybdM</text>
<polygon points="315.8,1046.9 343.7,1033.5 380.4,1033.5 380.4,1060.3 343.7,1060.3" fill="#5b9bd5" stroke="#000" stroke-width="2.4" stroke-linejoin="miter"/>
<polygon points="382.1,1047.8 406.5,1034.2 430.3,1034.2 430.3,1061.4 406.5,1061.4" fill="#5b9bd5" stroke="#000" stroke-width="2.4" stroke-linejoin="miter"/>
<polygon points="441.4,1037.0 529.4,1037.0 551.4,1048.7 529.4,1060.3 441.4,1060.3" fill="#2e75b6"/>
<polygon points="552.0,1037.0 567.0,1037.0 588.7,1048.7 567.0,1060.3 552.0,1060.3" fill="#0b649c"/>
<polygon points="590.3,1033.5 664.3,1033.5 687.0,1045.7 664.3,1057.9 590.3,1057.9" fill="#0b649c"/>
<polygon points="688.0,1033.5 760.2,1033.5 782.9,1045.7 760.2,1057.9 688.0,1057.9" fill="#0b649c"/>
<polygon points="785.3,1032.8 824.8,1032.8 847.5,1046.5 824.8,1060.3 785.3,1060.3" fill="#0b649c"/>
<polygon points="848.2,1034.2 922.5,1034.2 943.4,1046.6 922.5,1058.9 848.2,1058.9" fill="#0b649c"/>
<polygon points="945.2,1035.2 1001.0,1035.2 1020.2,1045.2 1001.0,1055.1 945.2,1055.1" fill="#0b649c"/>
<polygon points="1021.2,1033.8 1027.4,1033.8 1053.9,1047.7 1027.4,1061.6 1021.2,1061.6" fill="none" stroke="#000" stroke-width="2.3" stroke-linejoin="miter"/>
<polygon points="1053.9,1047.7 1080.5,1033.8 1086.6,1033.8 1086.6,1061.6 1080.5,1061.6" fill="none" stroke="#000" stroke-width="2.3" stroke-linejoin="miter"/>
<polygon points="1086.2,1047.7 1106.5,1033.8 1167.8,1033.8 1167.8,1061.6 1106.5,1061.6" fill="#fff" stroke="#000" stroke-width="2.3" stroke-linejoin="miter"/>
<polygon points="1173.5,1033.8 1180.0,1033.8 1205.2,1047.7 1180.0,1061.6 1173.5,1061.6" fill="none" stroke="#000" stroke-width="2.3" stroke-linejoin="miter"/>
<polygon points="1205.2,1047.7 1230.7,1033.8 1282.8,1033.8 1282.8,1061.6 1230.7,1061.6" fill="none" stroke="#000" stroke-width="2.3" stroke-linejoin="miter"/>
<polygon points="1283.9,1043.9 1310.4,1029.9 1316.6,1029.9 1316.6,1057.9 1310.4,1057.9" fill="#fff" stroke="#000" stroke-width="2.3" stroke-linejoin="miter"/>
<polygon points="1320.6,1030.3 1371.7,1030.3 1399.3,1044.3 1371.7,1058.3 1320.6,1058.3" fill="#fff" stroke="#000" stroke-width="2.3" stroke-linejoin="miter"/>
<polygon points="1402.0,1030.4 1488.5,1030.4 1510.5,1042.8 1488.5,1055.1 1402.0,1055.1" fill="#92d050"/>
<polygon points="1515.7,1030.4 1602.2,1030.4 1624.1,1042.8 1602.2,1055.1 1515.7,1055.1" fill="#92d050"/>
<polygon points="1624.1,1030.4 1709.9,1030.4 1733.0,1042.8 1709.9,1055.1 1624.1,1055.1" fill="#92d050"/>
</g>
<g id="panelE">
<text x="1292.0" y="43.7" font-size="26" font-weight="bold" textLength="20.0" lengthAdjust="spacingAndGlyphs">E.</text>
<path d="M1432.7 40.4H1423.4V402.6H1880.2" fill="none" stroke="#000" stroke-width="3.8"/>
<line x1="1423.4" y1="342.2" x2="1432.7" y2="342.2" stroke="#000" stroke-width="3.6"/>
<line x1="1423.4" y1="281.9" x2="1432.7" y2="281.9" stroke="#000" stroke-width="3.6"/>
<line x1="1423.4" y1="221.5" x2="1432.7" y2="221.5" stroke="#000" stroke-width="3.6"/>
<line x1="1423.4" y1="161.1" x2="1432.7" y2="161.1" stroke="#000" stroke-width="3.6"/>
<line x1="1423.4" y1="100.8" x2="1432.7" y2="100.8" stroke="#000" stroke-width="3.6"/>
<line x1="1537.1" y1="394.4" x2="1537.1" y2="402.6" stroke="#000" stroke-width="3.6"/>
<line x1="1650.8" y1="394.4" x2="1650.8" y2="402.6" stroke="#000" stroke-width="3.6"/>
<line x1="1764.5" y1="394.4" x2="1764.5" y2="402.6" stroke="#000" stroke-width="3.6"/>
<line x1="1878.2" y1="394.4" x2="1878.2" y2="402.6" stroke="#000" stroke-width="3.6"/>
<text x="1397.5" y="411.9" font-size="29.5" font-weight="bold" fill="#595959" text-anchor="end" textLength="17.8" lengthAdjust="spacingAndGlyphs">0</text>
<text x="1397.5" y="351.5" font-size="29.5" font-weight="bold" fill="#595959" text-anchor="end" textLength="44.5" lengthAdjust="spacingAndGlyphs">0.2</text>
<text x="1397.5" y="291.2" font-size="29.5" font-weight="bold" fill="#595959" text-anchor="end" textLength="44.5" lengthAdjust="spacingAndGlyphs">0.4</text>
<text x="1397.5" y="230.8" font-size="29.5" font-weight="bold" fill="#595959" text-anchor="end" textLength="44.5" lengthAdjust="spacingAndGlyphs">0.6</text>
<text x="1397.5" y="170.4" font-size="29.5" font-weight="bold" fill="#595959" text-anchor="end" textLength="44.5" lengthAdjust="spacingAndGlyphs">0.8</text>
<text x="1397.5" y="110.1" font-size="29.5" font-weight="bold" fill="#595959" text-anchor="end" textLength="17.8" lengthAdjust="spacingAndGlyphs">1</text>
<text x="1397.5" y="49.7" font-size="29.5" font-weight="bold" fill="#595959" text-anchor="end" textLength="44.5" lengthAdjust="spacingAndGlyphs">1.2</text>
<text x="1423.4" y="448.8" font-size="29.5" font-weight="bold" fill="#595959" text-anchor="middle" textLength="17.8" lengthAdjust="spacingAndGlyphs">0</text>
<text x="1537.1" y="448.8" font-size="29.5" font-weight="bold" fill="#595959" text-anchor="middle" textLength="35.6" lengthAdjust="spacingAndGlyphs">20</text>
<text x="1650.8" y="448.8" font-size="29.5" font-weight="bold" fill="#595959" text-anchor="middle" textLength="35.6" lengthAdjust="spacingAndGlyphs">40</text>
<text x="1764.5" y="448.8" font-size="29.5" font-weight="bold" fill="#595959" text-anchor="middle" textLength="35.6" lengthAdjust="spacingAndGlyphs">60</text>
<text x="1878.2" y="448.8" font-size="29.5" font-weight="bold" fill="#595959" text-anchor="middle" textLength="35.6" lengthAdjust="spacingAndGlyphs">80</text>
<text transform="translate(1331.9 276.2) rotate(-90)" font-size="36.5" textLength="46.5" lengthAdjust="spacingAndGlyphs">OD</text>
<text transform="translate(1342.0 226.5) rotate(-90)" font-size="27" textLength="39.0" lengthAdjust="spacingAndGlyphs">600</text>
<text x="1896.0" y="374.4" font-size="26" font-weight="bold" textLength="98.0" lengthAdjust="spacingAndGlyphs">t, hours</text>
<path d="M1434.8 376.5L1440.5 376.5L1446.1 376.4L1451.8 376.3L1457.5 376.2L1463.2 376.0L1468.9 375.8L1474.6 375.6L1480.2 375.4L1485.9 375.1L1491.6 374.7L1497.3 374.2L1503.0 373.7L1508.7 373.1L1514.4 372.5L1520.0 371.9L1525.7 371.4L1531.4 371.1L1537.1 370.9L1542.8 370.4L1548.5 369.1L1554.2 366.1L1559.8 363.1L1565.5 359.8L1571.2 356.6L1576.9 353.1L1582.6 348.7L1588.3 344.0L1594.0 340.3L1599.6 336.0L1605.3 330.3L1611.0 323.2L1616.7 313.4L1622.4 302.9L1628.1 296.2L1633.7 289.7L1639.4 281.9L1645.1 270.2L1650.8 258.8L1656.5 248.0L1662.2 236.5L1667.9 224.2L1673.5 210.9L1679.2 196.9L1684.9 186.0L1690.6 173.5L1696.3 163.3L1702.0 153.4L1707.7 143.7L1713.3 134.8L1719.0 126.5L1724.7 119.1L1730.4 112.6L1736.1 107.4L1741.8 103.4L1747.4 100.3L1753.1 96.7L1758.8 92.9L1764.5 89.0L1770.2 85.5L1775.9 82.6L1781.6 80.4L1787.2 78.5L1792.9 76.2L1798.6 73.6L1804.3 71.0L1810.0 68.5L1815.7 66.8L1821.4 66.1L1827.0 65.8L1832.7 66.3L1838.4 67.2L1844.1 69.2" fill="none" stroke="#ed7d31" stroke-width="5" stroke-linejoin="round"/>
<path d="M1434.8 376.5h0.01M1440.5 376.5h0.01M1446.1 376.4h0.01M1451.8 376.3h0.01M1457.5 376.2h0.01M1463.2 376.0h0.01M1468.9 375.8h0.01M1474.6 375.6h0.01M1480.2 375.4h0.01M1485.9 375.1h0.01M1491.6 374.7h0.01M1497.3 374.2h0.01M1503.0 373.7h0.01M1508.7 373.1h0.01M1514.4 372.5h0.01M1520.0 371.9h0.01M1525.7 371.4h0.01M1531.4 371.1h0.01M1537.1 370.9h0.01M1542.8 370.4h0.01M1548.5 369.1h0.01M1554.2 366.1h0.01M1559.8 363.1h0.01M1565.5 359.8h0.01M1571.2 356.6h0.01M1576.9 353.1h0.01M1582.6 348.7h0.01M1588.3 344.0h0.01M1594.0 340.3h0.01M1599.6 336.0h0.01M1605.3 330.3h0.01M1611.0 323.2h0.01M1616.7 313.4h0.01M1622.4 302.9h0.01M1628.1 296.2h0.01M1633.7 289.7h0.01M1639.4 281.9h0.01M1645.1 270.2h0.01M1650.8 258.8h0.01M1656.5 248.0h0.01M1662.2 236.5h0.01M1667.9 224.2h0.01M1673.5 210.9h0.01M1679.2 196.9h0.01M1684.9 186.0h0.01M1690.6 173.5h0.01M1696.3 163.3h0.01M1702.0 153.4h0.01M1707.7 143.7h0.01M1713.3 134.8h0.01M1719.0 126.5h0.01M1724.7 119.1h0.01M1730.4 112.6h0.01M1736.1 107.4h0.01M1741.8 103.4h0.01M1747.4 100.3h0.01M1753.1 96.7h0.01M1758.8 92.9h0.01M1764.5 89.0h0.01M1770.2 85.5h0.01M1775.9 82.6h0.01M1781.6 80.4h0.01M1787.2 78.5h0.01M1792.9 76.2h0.01M1798.6 73.6h0.01M1804.3 71.0h0.01M1810.0 68.5h0.01M1815.7 66.8h0.01M1821.4 66.1h0.01M1827.0 65.8h0.01M1832.7 66.3h0.01M1838.4 67.2h0.01M1844.1 69.2h0.01" fill="none" stroke="#ed7d31" stroke-width="16.5" stroke-linecap="round"/>
<path d="M1427.1 368.8l15.4 15.4M1427.1 384.2l15.4 -15.4M1432.8 368.8l15.4 15.4M1432.8 384.2l15.4 -15.4M1438.4 368.7l15.4 15.4M1438.4 384.1l15.4 -15.4M1444.1 368.5l15.4 15.4M1444.1 383.9l15.4 -15.4M1449.8 368.4l15.4 15.4M1449.8 383.8l15.4 -15.4M1455.5 368.2l15.4 15.4M1455.5 383.6l15.4 -15.4M1461.2 367.9l15.4 15.4M1461.2 383.3l15.4 -15.4M1466.9 367.7l15.4 15.4M1466.9 383.1l15.4 -15.4M1472.5 367.3l15.4 15.4M1472.5 382.7l15.4 -15.4M1478.2 366.8l15.4 15.4M1478.2 382.2l15.4 -15.4M1483.9 366.3l15.4 15.4M1483.9 381.7l15.4 -15.4M1489.6 365.6l15.4 15.4M1489.6 381.0l15.4 -15.4M1495.3 364.9l15.4 15.4M1495.3 380.3l15.4 -15.4M1501.0 363.9l15.4 15.4M1501.0 379.3l15.4 -15.4M1506.7 362.7l15.4 15.4M1506.7 378.1l15.4 -15.4M1512.3 361.2l15.4 15.4M1512.3 376.6l15.4 -15.4M1518.0 359.4l15.4 15.4M1518.0 374.8l15.4 -15.4M1523.7 356.6l15.4 15.4M1523.7 372.0l15.4 -15.4M1529.4 354.2l15.4 15.4M1529.4 369.6l15.4 -15.4M1535.1 352.3l15.4 15.4M1535.1 367.7l15.4 -15.4M1540.8 349.6l15.4 15.4M1540.8 365.0l15.4 -15.4M1546.5 345.1l15.4 15.4M1546.5 360.5l15.4 -15.4M1552.1 339.8l15.4 15.4M1552.1 355.2l15.4 -15.4M1557.8 334.6l15.4 15.4M1557.8 350.0l15.4 -15.4M1563.5 330.1l15.4 15.4M1563.5 345.5l15.4 -15.4M1569.2 324.4l15.4 15.4M1569.2 339.8l15.4 -15.4M1574.9 316.8l15.4 15.4M1574.9 332.2l15.4 -15.4M1580.6 308.3l15.4 15.4M1580.6 323.7l15.4 -15.4M1586.2 298.4l15.4 15.4M1586.2 313.8l15.4 -15.4M1591.9 291.0l15.4 15.4M1591.9 306.4l15.4 -15.4M1597.6 284.7l15.4 15.4M1597.6 300.1l15.4 -15.4M1603.3 278.0l15.4 15.4M1603.3 293.4l15.4 -15.4M1609.0 268.6l15.4 15.4M1609.0 284.0l15.4 -15.4M1614.7 258.1l15.4 15.4M1614.7 273.5l15.4 -15.4M1620.4 246.8l15.4 15.4M1620.4 262.2l15.4 -15.4M1626.0 234.0l15.4 15.4M1626.0 249.4l15.4 -15.4M1631.7 222.1l15.4 15.4M1631.7 237.5l15.4 -15.4M1637.4 209.3l15.4 15.4M1637.4 224.7l15.4 -15.4M1643.1 196.8l15.4 15.4M1643.1 212.2l15.4 -15.4M1648.8 184.1l15.4 15.4M1648.8 199.5l15.4 -15.4M1654.5 171.6l15.4 15.4M1654.5 187.0l15.4 -15.4M1660.2 160.1l15.4 15.4M1660.2 175.5l15.4 -15.4M1665.8 149.1l15.4 15.4M1665.8 164.5l15.4 -15.4M1671.5 138.8l15.4 15.4M1671.5 154.2l15.4 -15.4M1677.2 128.8l15.4 15.4M1677.2 144.2l15.4 -15.4M1682.9 119.8l15.4 15.4M1682.9 135.2l15.4 -15.4M1688.6 111.8l15.4 15.4M1688.6 127.2l15.4 -15.4M1694.3 105.1l15.4 15.4M1694.3 120.5l15.4 -15.4M1700.0 99.7l15.4 15.4M1700.0 115.1l15.4 -15.4M1705.6 95.2l15.4 15.4M1705.6 110.6l15.4 -15.4M1711.3 90.1l15.4 15.4M1711.3 105.5l15.4 -15.4M1717.0 84.9l15.4 15.4M1717.0 100.3l15.4 -15.4M1722.7 81.8l15.4 15.4M1722.7 97.2l15.4 -15.4M1728.4 80.2l15.4 15.4M1728.4 95.6l15.4 -15.4M1734.1 79.0l15.4 15.4M1734.1 94.4l15.4 -15.4M1739.7 77.8l15.4 15.4M1739.7 93.2l15.4 -15.4M1745.4 76.2l15.4 15.4M1745.4 91.6l15.4 -15.4M1751.1 74.6l15.4 15.4M1751.1 90.0l15.4 -15.4M1756.8 73.1l15.4 15.4M1756.8 88.5l15.4 -15.4M1762.5 71.7l15.4 15.4M1762.5 87.1l15.4 -15.4M1768.2 70.4l15.4 15.4M1768.2 85.8l15.4 -15.4M1773.9 69.4l15.4 15.4M1773.9 84.8l15.4 -15.4M1779.5 68.9l15.4 15.4M1779.5 84.3l15.4 -15.4M1785.2 68.5l15.4 15.4M1785.2 83.9l15.4 -15.4M1790.9 68.2l15.4 15.4M1790.9 83.6l15.4 -15.4M1796.6 68.1l15.4 15.4M1796.6 83.5l15.4 -15.4M1802.3 68.7l15.4 15.4M1802.3 84.1l15.4 -15.4M1808.0 70.1l15.4 15.4M1808.0 85.5l15.4 -15.4M1813.7 71.2l15.4 15.4M1813.7 86.6l15.4 -15.4M1819.3 72.3l15.4 15.4M1819.3 87.7l15.4 -15.4M1825.0 73.4l15.4 15.4M1825.0 88.8l15.4 -15.4M1830.7 74.4l15.4 15.4M1830.7 89.8l15.4 -15.4M1836.4 75.5l15.4 15.4M1836.4 90.9l15.4 -15.4" fill="none" stroke="#2e75b6" stroke-width="1.45"/>
<path d="M1434.8 376.5L1440.5 376.5L1446.1 376.4L1451.8 376.2L1457.5 376.1L1463.2 375.9L1468.9 375.6L1474.6 375.4L1480.2 375.0L1485.9 374.5L1491.6 374.0L1497.3 373.3L1503.0 372.6L1508.7 371.6L1514.4 370.4L1520.0 368.9L1525.7 367.1L1531.4 364.3L1537.1 361.9L1542.8 360.0L1548.5 357.3L1554.2 352.8L1559.8 347.5L1565.5 342.3L1571.2 337.8L1576.9 332.1L1582.6 324.5L1588.3 316.0L1594.0 306.1L1599.6 298.7L1605.3 292.4L1611.0 285.7L1616.7 276.3L1622.4 265.8L1628.1 254.5L1633.7 241.7L1639.4 229.8L1645.1 217.0L1650.8 204.5L1656.5 191.8L1662.2 179.3L1667.9 167.8L1673.5 156.8L1679.2 146.5L1684.9 136.5L1690.6 127.5L1696.3 119.5L1702.0 112.8L1707.7 107.4L1713.3 102.9L1719.0 97.8L1724.7 92.6L1730.4 89.5L1736.1 87.9L1741.8 86.7L1747.4 85.5L1753.1 83.9L1758.8 82.3L1764.5 80.8L1770.2 79.4L1775.9 78.1L1781.6 77.1L1787.2 76.6L1792.9 76.2L1798.6 75.9L1804.3 75.8L1810.0 76.4L1815.7 77.8L1821.4 78.9L1827.0 80.0L1832.7 81.1L1838.4 82.1L1844.1 83.2" fill="none" stroke="#4472c4" stroke-width="6.5" stroke-linejoin="round"/>
<path d="M1434.8 376.5h0.01M1440.5 376.5h0.01M1446.1 376.4h0.01M1451.8 376.2h0.01M1457.5 376.1h0.01M1463.2 375.9h0.01M1468.9 375.6h0.01M1474.6 375.4h0.01M1480.2 375.0h0.01M1485.9 374.5h0.01M1491.6 374.0h0.01M1497.3 373.3h0.01M1503.0 372.6h0.01M1508.7 371.6h0.01M1514.4 370.4h0.01M1520.0 368.9h0.01M1525.7 367.1h0.01M1531.4 364.3h0.01M1537.1 361.9h0.01M1542.8 360.0h0.01M1548.5 357.3h0.01M1554.2 352.8h0.01M1559.8 347.5h0.01M1565.5 342.3h0.01M1571.2 337.8h0.01M1576.9 332.1h0.01M1582.6 324.5h0.01M1588.3 316.0h0.01M1594.0 306.1h0.01M1599.6 298.7h0.01M1605.3 292.4h0.01M1611.0 285.7h0.01M1616.7 276.3h0.01M1622.4 265.8h0.01M1628.1 254.5h0.01M1633.7 241.7h0.01M1639.4 229.8h0.01M1645.1 217.0h0.01M1650.8 204.5h0.01M1656.5 191.8h0.01M1662.2 179.3h0.01M1667.9 167.8h0.01M1673.5 156.8h0.01M1679.2 146.5h0.01M1684.9 136.5h0.01M1690.6 127.5h0.01M1696.3 119.5h0.01M1702.0 112.8h0.01M1707.7 107.4h0.01M1713.3 102.9h0.01M1719.0 97.8h0.01M1724.7 92.6h0.01M1730.4 89.5h0.01M1736.1 87.9h0.01M1741.8 86.7h0.01M1747.4 85.5h0.01M1753.1 83.9h0.01M1758.8 82.3h0.01M1764.5 80.8h0.01M1770.2 79.4h0.01M1775.9 78.1h0.01M1781.6 77.1h0.01M1787.2 76.6h0.01M1792.9 76.2h0.01M1798.6 75.9h0.01M1804.3 75.8h0.01M1810.0 76.4h0.01M1815.7 77.8h0.01M1821.4 78.9h0.01M1827.0 80.0h0.01M1832.7 81.1h0.01M1838.4 82.1h0.01M1844.1 83.2h0.01" fill="none" stroke="#4472c4" stroke-width="11.8" stroke-linecap="round"/>
<path d="M1428.9 370.6l11.8 11.8M1428.9 382.4l11.8 -11.8M1434.6 370.5l11.8 11.8M1434.6 382.3l11.8 -11.8M1440.2 370.4l11.8 11.8M1440.2 382.2l11.8 -11.8M1445.9 370.1l11.8 11.8M1445.9 381.9l11.8 -11.8M1451.6 369.8l11.8 11.8M1451.6 381.6l11.8 -11.8M1457.3 369.4l11.8 11.8M1457.3 381.2l11.8 -11.8M1463.0 369.0l11.8 11.8M1463.0 380.8l11.8 -11.8M1468.7 368.5l11.8 11.8M1468.7 380.3l11.8 -11.8M1474.3 367.7l11.8 11.8M1474.3 379.5l11.8 -11.8M1480.0 366.7l11.8 11.8M1480.0 378.5l11.8 -11.8M1485.7 365.4l11.8 11.8M1485.7 377.2l11.8 -11.8M1491.4 363.2l11.8 11.8M1491.4 375.0l11.8 -11.8M1497.1 359.9l11.8 11.8M1497.1 371.7l11.8 -11.8M1502.8 355.7l11.8 11.8M1502.8 367.5l11.8 -11.8M1508.5 349.8l11.8 11.8M1508.5 361.6l11.8 -11.8M1514.1 342.4l11.8 11.8M1514.1 354.2l11.8 -11.8M1519.8 334.6l11.8 11.8M1519.8 346.4l11.8 -11.8M1525.5 325.9l11.8 11.8M1525.5 337.7l11.8 -11.8M1531.2 315.9l11.8 11.8M1531.2 327.7l11.8 -11.8M1536.9 304.7l11.8 11.8M1536.9 316.5l11.8 -11.8M1542.6 291.2l11.8 11.8M1542.6 303.0l11.8 -11.8M1548.3 276.3l11.8 11.8M1548.3 288.1l11.8 -11.8M1553.9 260.6l11.8 11.8M1553.9 272.4l11.8 -11.8M1559.6 241.7l11.8 11.8M1559.6 253.5l11.8 -11.8M1565.3 219.6l11.8 11.8M1565.3 231.4l11.8 -11.8M1571.0 196.9l11.8 11.8M1571.0 208.7l11.8 -11.8M1576.7 175.8l11.8 11.8M1576.7 187.6l11.8 -11.8M1582.4 155.8l11.8 11.8M1582.4 167.6l11.8 -11.8M1588.0 134.4l11.8 11.8M1588.0 146.2l11.8 -11.8M1593.7 117.4l11.8 11.8M1593.7 129.2l11.8 -11.8M1599.4 104.5l11.8 11.8M1599.4 116.3l11.8 -11.8M1605.1 98.0l11.8 11.8M1605.1 109.8l11.8 -11.8M1610.8 95.8l11.8 11.8M1610.8 107.6l11.8 -11.8M1616.5 95.2l11.8 11.8M1616.5 107.0l11.8 -11.8M1622.2 94.8l11.8 11.8M1622.2 106.6l11.8 -11.8M1627.8 94.5l11.8 11.8M1627.8 106.3l11.8 -11.8M1633.5 94.1l11.8 11.8M1633.5 105.9l11.8 -11.8M1639.2 93.7l11.8 11.8M1639.2 105.5l11.8 -11.8M1644.9 93.4l11.8 11.8M1644.9 105.2l11.8 -11.8M1650.6 93.0l11.8 11.8M1650.6 104.8l11.8 -11.8M1656.3 92.7l11.8 11.8M1656.3 104.5l11.8 -11.8M1662.0 92.3l11.8 11.8M1662.0 104.1l11.8 -11.8M1667.6 92.0l11.8 11.8M1667.6 103.8l11.8 -11.8M1673.3 91.7l11.8 11.8M1673.3 103.5l11.8 -11.8M1679.0 91.3l11.8 11.8M1679.0 103.1l11.8 -11.8M1684.7 90.9l11.8 11.8M1684.7 102.7l11.8 -11.8M1690.4 90.5l11.8 11.8M1690.4 102.3l11.8 -11.8M1696.1 90.1l11.8 11.8M1696.1 101.9l11.8 -11.8M1701.8 89.7l11.8 11.8M1701.8 101.5l11.8 -11.8M1707.4 89.2l11.8 11.8M1707.4 101.0l11.8 -11.8M1713.1 88.7l11.8 11.8M1713.1 100.5l11.8 -11.8M1718.8 88.2l11.8 11.8M1718.8 100.0l11.8 -11.8M1724.5 87.7l11.8 11.8M1724.5 99.5l11.8 -11.8M1730.2 87.2l11.8 11.8M1730.2 99.0l11.8 -11.8M1735.9 86.6l11.8 11.8M1735.9 98.4l11.8 -11.8M1741.5 85.9l11.8 11.8M1741.5 97.7l11.8 -11.8M1747.2 85.1l11.8 11.8M1747.2 96.9l11.8 -11.8M1752.9 84.3l11.8 11.8M1752.9 96.1l11.8 -11.8M1758.6 83.2l11.8 11.8M1758.6 95.0l11.8 -11.8M1764.3 81.8l11.8 11.8M1764.3 93.6l11.8 -11.8M1770.0 80.0l11.8 11.8M1770.0 91.8l11.8 -11.8M1775.7 78.0l11.8 11.8M1775.7 89.8l11.8 -11.8M1781.3 76.0l11.8 11.8M1781.3 87.8l11.8 -11.8M1787.0 73.9l11.8 11.8M1787.0 85.7l11.8 -11.8M1792.7 72.0l11.8 11.8M1792.7 83.8l11.8 -11.8M1798.4 70.3l11.8 11.8M1798.4 82.1l11.8 -11.8M1804.1 68.8l11.8 11.8M1804.1 80.6l11.8 -11.8M1809.8 67.4l11.8 11.8M1809.8 79.2l11.8 -11.8M1815.5 66.0l11.8 11.8M1815.5 77.8l11.8 -11.8M1821.1 64.7l11.8 11.8M1821.1 76.5l11.8 -11.8M1826.8 63.4l11.8 11.8M1826.8 75.2l11.8 -11.8M1832.5 62.2l11.8 11.8M1832.5 74.0l11.8 -11.8M1838.2 61.1l11.8 11.8M1838.2 72.9l11.8 -11.8" fill="none" stroke="#4472c4" stroke-width="1.1" opacity="0.9"/>
<path d="M1434.8 376.5L1440.5 376.4L1446.1 376.3L1451.8 376.0L1457.5 375.7L1463.2 375.3L1468.9 374.9L1474.6 374.4L1480.2 373.6L1485.9 372.6L1491.6 371.3L1497.3 369.1L1503.0 365.8L1508.7 361.6L1514.4 355.7L1520.0 348.3L1525.7 340.5L1531.4 331.8L1537.1 321.8L1542.8 310.6L1548.5 297.1L1554.2 282.2L1559.8 266.5L1565.5 247.6L1571.2 225.5L1576.9 202.8L1582.6 181.7L1588.3 161.7L1594.0 140.3L1599.6 123.3L1605.3 110.4L1611.0 103.9L1616.7 101.7L1622.4 101.1L1628.1 100.7L1633.7 100.4L1639.4 100.0L1645.1 99.6L1650.8 99.3L1656.5 98.9L1662.2 98.6L1667.9 98.2L1673.5 97.9L1679.2 97.6L1684.9 97.2L1690.6 96.8L1696.3 96.4L1702.0 96.0L1707.7 95.6L1713.3 95.1L1719.0 94.6L1724.7 94.1L1730.4 93.6L1736.1 93.1L1741.8 92.5L1747.4 91.8L1753.1 91.0L1758.8 90.2L1764.5 89.1L1770.2 87.7L1775.9 85.9L1781.6 83.9L1787.2 81.9L1792.9 79.8L1798.6 77.9L1804.3 76.2L1810.0 74.7L1815.7 73.3L1821.4 71.9L1827.0 70.6L1832.7 69.3L1838.4 68.1L1844.1 67.0" fill="none" stroke="#a5a5a5" stroke-width="3.5" stroke-linejoin="round"/>
<path d="M1434.8 376.5h0.01M1440.5 376.4h0.01M1446.1 376.3h0.01M1451.8 376.0h0.01M1457.5 375.7h0.01M1463.2 375.3h0.01M1468.9 374.9h0.01M1474.6 374.4h0.01M1480.2 373.6h0.01M1485.9 372.6h0.01M1491.6 371.3h0.01M1497.3 369.1h0.01M1503.0 365.8h0.01M1508.7 361.6h0.01M1514.4 355.7h0.01M1520.0 348.3h0.01M1525.7 340.5h0.01M1531.4 331.8h0.01M1537.1 321.8h0.01M1542.8 310.6h0.01M1548.5 297.1h0.01M1554.2 282.2h0.01M1559.8 266.5h0.01M1565.5 247.6h0.01M1571.2 225.5h0.01M1576.9 202.8h0.01M1582.6 181.7h0.01M1588.3 161.7h0.01M1594.0 140.3h0.01M1599.6 123.3h0.01M1605.3 110.4h0.01M1611.0 103.9h0.01M1616.7 101.7h0.01M1622.4 101.1h0.01M1628.1 100.7h0.01M1633.7 100.4h0.01M1639.4 100.0h0.01M1645.1 99.6h0.01M1650.8 99.3h0.01M1656.5 98.9h0.01M1662.2 98.6h0.01M1667.9 98.2h0.01M1673.5 97.9h0.01M1679.2 97.6h0.01M1684.9 97.2h0.01M1690.6 96.8h0.01M1696.3 96.4h0.01M1702.0 96.0h0.01M1707.7 95.6h0.01M1713.3 95.1h0.01M1719.0 94.6h0.01M1724.7 94.1h0.01M1730.4 93.6h0.01M1736.1 93.1h0.01M1741.8 92.5h0.01M1747.4 91.8h0.01M1753.1 91.0h0.01M1758.8 90.2h0.01M1764.5 89.1h0.01M1770.2 87.7h0.01M1775.9 85.9h0.01M1781.6 83.9h0.01M1787.2 81.9h0.01M1792.9 79.8h0.01M1798.6 77.9h0.01M1804.3 76.2h0.01M1810.0 74.7h0.01M1815.7 73.3h0.01M1821.4 71.9h0.01M1827.0 70.6h0.01M1832.7 69.3h0.01M1838.4 68.1h0.01M1844.1 67.0h0.01" fill="none" stroke="#a5a5a5" stroke-width="10.9" stroke-linecap="round"/>
<path d="M1439.6 376.8h3.4M1445.3 376.7h3.4M1450.9 376.4h3.4M1456.6 376.0h3.4M1462.3 375.5h3.4M1468.0 374.8h3.4M1473.7 374.1h3.4M1479.4 373.4h3.4M1485.0 372.6h3.4M1490.7 371.6h3.4M1496.4 370.3h3.4M1502.1 368.8h3.4M1507.8 366.9h3.4M1513.5 364.1h3.4M1519.2 361.0h3.4M1524.8 358.0h3.4M1530.5 354.1h3.4M1536.2 347.3h3.4M1541.9 339.5h3.4M1547.6 330.2h3.4M1553.3 318.5h3.4M1559.0 306.7h3.4M1564.6 292.0h3.4M1570.3 276.9h3.4M1576.0 258.9h3.4M1581.7 238.1h3.4M1587.4 214.3h3.4M1593.1 190.3h3.4M1598.8 172.4h3.4M1604.4 152.4h3.4M1610.1 130.9h3.4M1615.8 110.2h3.4M1621.5 96.6h3.4M1627.2 87.2h3.4M1632.9 84.1h3.4M1638.5 82.5h3.4M1644.2 81.6h3.4M1649.9 80.8h3.4M1655.6 80.2h3.4M1661.3 79.6h3.4M1667.0 79.0h3.4M1672.7 78.5h3.4M1678.3 78.0h3.4M1684.0 77.5h3.4M1689.7 77.0h3.4M1695.4 76.5h3.4M1701.1 76.0h3.4M1706.8 75.5h3.4M1712.5 75.0h3.4M1718.1 74.5h3.4M1723.8 74.0h3.4M1729.5 73.4h3.4M1735.2 72.8h3.4M1740.9 72.1h3.4M1746.6 71.3h3.4M1752.2 70.2h3.4M1757.9 69.1h3.4M1763.6 67.8h3.4M1769.3 66.4h3.4M1775.0 64.9h3.4M1780.7 63.2h3.4M1786.4 61.4h3.4M1792.0 59.5h3.4M1797.7 57.4h3.4M1803.4 55.0h3.4M1809.1 52.5h3.4M1814.8 50.1h3.4M1820.5 47.7h3.4M1826.2 45.5h3.4M1831.8 43.6h3.4M1837.5 41.9h3.4" fill="none" stroke="#f4a07c" stroke-width="2.8"/>
<path d="M1434.8 376.8L1440.5 376.7L1446.1 376.4L1451.8 376.0L1457.5 375.5L1463.2 374.8L1468.9 374.1L1474.6 373.4L1480.2 372.6L1485.9 371.6L1491.6 370.3L1497.3 368.8L1503.0 366.9L1508.7 364.1L1514.4 361.0L1520.0 358.0L1525.7 354.1L1531.4 347.3L1537.1 339.5L1542.8 330.2L1548.5 318.5L1554.2 306.7L1559.8 292.0L1565.5 276.9L1571.2 258.9L1576.9 238.1L1582.6 214.3L1588.3 190.3L1594.0 172.4L1599.6 152.4L1605.3 130.9L1611.0 110.2L1616.7 96.6L1622.4 87.2L1628.1 84.1L1633.7 82.5L1639.4 81.6L1645.1 80.8L1650.8 80.2L1656.5 79.6L1662.2 79.0L1667.9 78.5L1673.5 78.0L1679.2 77.5L1684.9 77.0L1690.6 76.5L1696.3 76.0L1702.0 75.5L1707.7 75.0L1713.3 74.5L1719.0 74.0L1724.7 73.4L1730.4 72.8L1736.1 72.1L1741.8 71.3L1747.4 70.2L1753.1 69.1L1758.8 67.8L1764.5 66.4L1770.2 64.9L1775.9 63.2L1781.6 61.4L1787.2 59.5L1792.9 57.4L1798.6 55.0L1804.3 52.5L1810.0 50.1L1815.7 47.7L1821.4 45.5L1827.0 43.6L1832.7 41.9" fill="none" stroke="#ffc000" stroke-width="3.5" stroke-linejoin="round"/>
<path d="M1434.8 376.8h0.01M1440.5 376.7h0.01M1446.1 376.4h0.01M1451.8 376.0h0.01M1457.5 375.5h0.01M1463.2 374.8h0.01M1468.9 374.1h0.01M1474.6 373.4h0.01M1480.2 372.6h0.01M1485.9 371.6h0.01M1491.6 370.3h0.01M1497.3 368.8h0.01M1503.0 366.9h0.01M1508.7 364.1h0.01M1514.4 361.0h0.01M1520.0 358.0h0.01M1525.7 354.1h0.01M1531.4 347.3h0.01M1537.1 339.5h0.01M1542.8 330.2h0.01M1548.5 318.5h0.01M1554.2 306.7h0.01M1559.8 292.0h0.01M1565.5 276.9h0.01M1571.2 258.9h0.01M1576.9 238.1h0.01M1582.6 214.3h0.01M1588.3 190.3h0.01M1594.0 172.4h0.01M1599.6 152.4h0.01M1605.3 130.9h0.01M1611.0 110.2h0.01M1616.7 96.6h0.01M1622.4 87.2h0.01M1628.1 84.1h0.01M1633.7 82.5h0.01M1639.4 81.6h0.01M1645.1 80.8h0.01M1650.8 80.2h0.01M1656.5 79.6h0.01M1662.2 79.0h0.01M1667.9 78.5h0.01M1673.5 78.0h0.01M1679.2 77.5h0.01M1684.9 77.0h0.01M1690.6 76.5h0.01M1696.3 76.0h0.01M1702.0 75.5h0.01M1707.7 75.0h0.01M1713.3 74.5h0.01M1719.0 74.0h0.01M1724.7 73.4h0.01M1730.4 72.8h0.01M1736.1 72.1h0.01M1741.8 71.3h0.01M1747.4 70.2h0.01M1753.1 69.1h0.01M1758.8 67.8h0.01M1764.5 66.4h0.01M1770.2 64.9h0.01M1775.9 63.2h0.01M1781.6 61.4h0.01M1787.2 59.5h0.01M1792.9 57.4h0.01M1798.6 55.0h0.01M1804.3 52.5h0.01M1810.0 50.1h0.01M1815.7 47.7h0.01M1821.4 45.5h0.01M1827.0 43.6h0.01M1832.7 41.9h0.01" fill="none" stroke="#ffc000" stroke-width="12.5" stroke-linecap="round"/>
<text x="1580.3" y="171.1" font-size="32.4" font-weight="bold" textLength="32.0" lengthAdjust="spacingAndGlyphs">Δ</text>
<text x="1610.3" y="168.3" font-size="28" font-weight="bold" font-style="italic" textLength="65.6" lengthAdjust="spacingAndGlyphs">ybdO</text>
<text x="1716.5" y="187.4" font-size="26" font-weight="bold" textLength="40.3" lengthAdjust="spacingAndGlyphs">WT</text>
<line x1="1739.9" y1="203.7" x2="1692.0" y2="226.6" stroke="#44546a" stroke-width="1.7"/>
<polygon points="1684.5,230.2 1693.3,219.9 1698.9,230.8" fill="#44546a"/>
</g>
<g id="panelF">
<text x="1292.0" y="492.8" font-size="26" font-weight="bold" textLength="18.7" lengthAdjust="spacingAndGlyphs">F.</text>
<path d="M1424 471.3H1414.7V834.5H1903.8" fill="none" stroke="#000" stroke-width="3.8"/>
<line x1="1414.7" y1="743.7" x2="1424.0" y2="743.7" stroke="#000" stroke-width="3.6"/>
<line x1="1414.7" y1="652.9" x2="1424.0" y2="652.9" stroke="#000" stroke-width="3.6"/>
<line x1="1414.7" y1="562.1" x2="1424.0" y2="562.1" stroke="#000" stroke-width="3.6"/>
<line x1="1536.5" y1="825.5" x2="1536.5" y2="834.5" stroke="#000" stroke-width="3.6"/>
<line x1="1658.3" y1="825.5" x2="1658.3" y2="834.5" stroke="#000" stroke-width="3.6"/>
<line x1="1780.1" y1="825.5" x2="1780.1" y2="834.5" stroke="#000" stroke-width="3.6"/>
<line x1="1901.9" y1="825.5" x2="1901.9" y2="834.5" stroke="#000" stroke-width="3.6"/>
<text x="1388.0" y="844.3" font-size="29.5" font-weight="bold" fill="#595959" text-anchor="end" textLength="17.8" lengthAdjust="spacingAndGlyphs">0</text>
<text x="1388.0" y="753.5" font-size="29.5" font-weight="bold" fill="#595959" text-anchor="end" textLength="44.5" lengthAdjust="spacingAndGlyphs">0.2</text>
<text x="1388.0" y="662.7" font-size="29.5" font-weight="bold" fill="#595959" text-anchor="end" textLength="44.5" lengthAdjust="spacingAndGlyphs">0.4</text>
<text x="1388.0" y="571.9" font-size="29.5" font-weight="bold" fill="#595959" text-anchor="end" textLength="44.5" lengthAdjust="spacingAndGlyphs">0.6</text>
<text x="1388.0" y="481.1" font-size="29.5" font-weight="bold" fill="#595959" text-anchor="end" textLength="44.5" lengthAdjust="spacingAndGlyphs">0.8</text>
<text x="1414.7" y="879.2" font-size="29.5" font-weight="bold" fill="#595959" text-anchor="middle" textLength="17.8" lengthAdjust="spacingAndGlyphs">0</text>
<text x="1536.5" y="879.2" font-size="29.5" font-weight="bold" fill="#595959" text-anchor="middle" textLength="35.6" lengthAdjust="spacingAndGlyphs">20</text>
<text x="1658.3" y="879.2" font-size="29.5" font-weight="bold" fill="#595959" text-anchor="middle" textLength="35.6" lengthAdjust="spacingAndGlyphs">40</text>
<text x="1780.1" y="879.2" font-size="29.5" font-weight="bold" fill="#595959" text-anchor="middle" textLength="35.6" lengthAdjust="spacingAndGlyphs">60</text>
<text x="1901.9" y="879.2" font-size="29.5" font-weight="bold" fill="#595959" text-anchor="middle" textLength="35.6" lengthAdjust="spacingAndGlyphs">80</text>
<text transform="translate(1336.7 652.6) rotate(-90)" font-size="37.5" textLength="45.5" lengthAdjust="spacingAndGlyphs">OD</text>
<text transform="translate(1345.8 605.5) rotate(-90)" font-size="23.5" textLength="37.5" lengthAdjust="spacingAndGlyphs">600</text>
<text x="1911.3" y="810.3" font-size="26" font-weight="bold" textLength="98.0" lengthAdjust="spacingAndGlyphs">t, hours</text>
<path d="M1426.9 795.1L1433.0 795.0L1439.1 794.7L1445.2 794.4L1451.2 793.9L1457.3 793.4L1463.4 792.8L1469.5 792.2L1475.6 791.5L1481.7 790.8L1487.8 789.8L1493.9 788.7L1500.0 787.4L1506.0 786.0L1512.1 784.4L1518.2 782.6L1524.3 780.6L1530.4 778.3L1536.5 776.1L1542.6 773.9L1548.7 771.7L1554.8 769.2L1560.9 765.9L1567.0 760.8L1573.0 755.0L1579.1 749.3L1585.2 743.0L1591.3 734.8L1597.4 726.0L1603.5 717.7L1609.6 708.0L1615.7 697.2L1621.8 686.8L1627.9 671.4L1633.9 658.0L1640.0 645.7L1646.1 632.7L1652.2 618.2L1658.3 602.5L1664.4 589.9L1670.5 578.3L1676.6 567.1L1682.7 555.8L1688.8 546.6L1694.8 539.9L1700.9 534.3L1707.0 531.0L1713.1 529.4L1719.2 528.7L1725.3 528.3L1731.4 528.5L1737.5 529.2L1743.6 530.0L1749.7 531.3L1755.7 533.0L1761.8 534.8L1767.9 536.7L1774.0 538.9L1780.1 541.1L1786.2 543.2L1792.3 544.9L1798.4 546.2L1804.5 547.7L1810.5 549.9L1816.6 554.7L1822.7 556.9L1828.8 558.5L1834.9 560.2L1841.0 562.2L1847.1 564.2L1853.2 566.3L1859.3 568.5L1865.4 570.6" fill="none" stroke="#4472c4" stroke-width="3" stroke-linejoin="round"/>
<path d="M1426.9 795.1h0.01M1433.0 795.0h0.01M1439.1 794.7h0.01M1445.2 794.4h0.01M1451.2 793.9h0.01M1457.3 793.4h0.01M1463.4 792.8h0.01M1469.5 792.2h0.01M1475.6 791.5h0.01M1481.7 790.8h0.01M1487.8 789.8h0.01M1493.9 788.7h0.01M1500.0 787.4h0.01M1506.0 786.0h0.01M1512.1 784.4h0.01M1518.2 782.6h0.01M1524.3 780.6h0.01M1530.4 778.3h0.01M1536.5 776.1h0.01M1542.6 773.9h0.01M1548.7 771.7h0.01M1554.8 769.2h0.01M1560.9 765.9h0.01M1567.0 760.8h0.01M1573.0 755.0h0.01M1579.1 749.3h0.01M1585.2 743.0h0.01M1591.3 734.8h0.01M1597.4 726.0h0.01M1603.5 717.7h0.01M1609.6 708.0h0.01M1615.7 697.2h0.01M1621.8 686.8h0.01M1627.9 671.4h0.01M1633.9 658.0h0.01M1640.0 645.7h0.01M1646.1 632.7h0.01M1652.2 618.2h0.01M1658.3 602.5h0.01M1664.4 589.9h0.01M1670.5 578.3h0.01M1676.6 567.1h0.01M1682.7 555.8h0.01M1688.8 546.6h0.01M1694.8 539.9h0.01M1700.9 534.3h0.01M1707.0 531.0h0.01M1713.1 529.4h0.01M1719.2 528.7h0.01M1725.3 528.3h0.01M1731.4 528.5h0.01M1737.5 529.2h0.01M1743.6 530.0h0.01M1749.7 531.3h0.01M1755.7 533.0h0.01M1761.8 534.8h0.01M1767.9 536.7h0.01M1774.0 538.9h0.01M1780.1 541.1h0.01M1786.2 543.2h0.01M1792.3 544.9h0.01M1798.4 546.2h0.01M1804.5 547.7h0.01M1810.5 549.9h0.01M1816.6 554.7h0.01M1822.7 556.9h0.01M1828.8 558.5h0.01M1834.9 560.2h0.01M1841.0 562.2h0.01M1847.1 564.2h0.01M1853.2 566.3h0.01M1859.3 568.5h0.01M1865.4 570.6h0.01" fill="none" stroke="#4472c4" stroke-width="12.4" stroke-linecap="round"/>
<path d="M1420.4 834.4L1426.9 795.0L1433.0 794.8L1439.1 794.5L1445.2 794.1L1451.2 793.7L1457.3 793.3L1463.4 792.9L1469.5 792.5L1475.6 792.0L1481.7 791.5L1487.8 791.0L1493.9 790.4L1500.0 789.8L1506.0 789.2L1512.1 788.5L1518.2 787.8L1524.3 787.1L1530.4 786.4L1536.5 785.6L1542.6 784.7L1548.7 783.7L1554.8 782.2L1560.9 780.4L1567.0 778.3L1573.0 775.9L1579.1 773.3L1585.2 770.1L1591.3 766.1L1597.4 760.4L1603.5 753.6L1609.6 746.2L1615.7 737.7L1621.8 728.0L1627.9 717.4L1633.9 707.5L1640.0 697.4L1646.1 686.1L1652.2 672.5L1658.3 656.3L1664.4 640.1L1670.5 622.1L1676.6 603.8L1682.7 586.6L1688.8 569.7L1694.8 552.6L1700.9 539.0L1707.0 527.1L1713.1 516.8L1719.2 507.2L1725.3 500.0L1731.4 494.8L1737.5 491.1L1743.6 488.3L1749.7 486.9L1755.7 486.2L1761.8 486.6L1767.9 487.9L1774.0 489.5L1780.1 491.1L1786.2 493.1L1792.3 495.4L1798.4 497.7L1804.5 500.1L1810.5 502.5L1816.6 505.0L1822.7 507.5L1828.8 509.9L1834.9 512.3L1841.0 514.8L1847.1 517.3L1853.2 520.0L1859.3 522.7L1865.4 525.4" fill="none" stroke="#ed7d31" stroke-width="3" stroke-linejoin="round"/>
<path d="M1420.4 834.4h0.01M1426.9 795.0h0.01M1433.0 794.8h0.01M1439.1 794.5h0.01M1445.2 794.1h0.01M1451.2 793.7h0.01M1457.3 793.3h0.01M1463.4 792.9h0.01M1469.5 792.5h0.01M1475.6 792.0h0.01M1481.7 791.5h0.01M1487.8 791.0h0.01M1493.9 790.4h0.01M1500.0 789.8h0.01M1506.0 789.2h0.01M1512.1 788.5h0.01M1518.2 787.8h0.01M1524.3 787.1h0.01M1530.4 786.4h0.01M1536.5 785.6h0.01M1542.6 784.7h0.01M1548.7 783.7h0.01M1554.8 782.2h0.01M1560.9 780.4h0.01M1567.0 778.3h0.01M1573.0 775.9h0.01M1579.1 773.3h0.01M1585.2 770.1h0.01M1591.3 766.1h0.01M1597.4 760.4h0.01M1603.5 753.6h0.01M1609.6 746.2h0.01M1615.7 737.7h0.01M1621.8 728.0h0.01M1627.9 717.4h0.01M1633.9 707.5h0.01M1640.0 697.4h0.01M1646.1 686.1h0.01M1652.2 672.5h0.01M1658.3 656.3h0.01M1664.4 640.1h0.01M1670.5 622.1h0.01M1676.6 603.8h0.01M1682.7 586.6h0.01M1688.8 569.7h0.01M1694.8 552.6h0.01M1700.9 539.0h0.01M1707.0 527.1h0.01M1713.1 516.8h0.01M1719.2 507.2h0.01M1725.3 500.0h0.01M1731.4 494.8h0.01M1737.5 491.1h0.01M1743.6 488.3h0.01M1749.7 486.9h0.01M1755.7 486.2h0.01M1761.8 486.6h0.01M1767.9 487.9h0.01M1774.0 489.5h0.01M1780.1 491.1h0.01M1786.2 493.1h0.01M1792.3 495.4h0.01M1798.4 497.7h0.01M1804.5 500.1h0.01M1810.5 502.5h0.01M1816.6 505.0h0.01M1822.7 507.5h0.01M1828.8 509.9h0.01M1834.9 512.3h0.01M1841.0 514.8h0.01M1847.1 517.3h0.01M1853.2 520.0h0.01M1859.3 522.7h0.01M1865.4 525.4h0.01" fill="none" stroke="#ed7d31" stroke-width="12.6" stroke-linecap="round"/>
<text x="1691.3" y="489.8" font-size="23.6" font-weight="bold" textLength="41.0" lengthAdjust="spacingAndGlyphs">WT</text>
<text x="1696.8" y="611.3" font-size="32" font-weight="bold" textLength="32.0" lengthAdjust="spacingAndGlyphs">Δ</text>
<text x="1728.5" y="607.8" font-size="26.5" font-weight="bold" font-style="italic" textLength="65.6" lengthAdjust="spacingAndGlyphs">ybdO</text>
</g>
</svg>
</body>
</html>
